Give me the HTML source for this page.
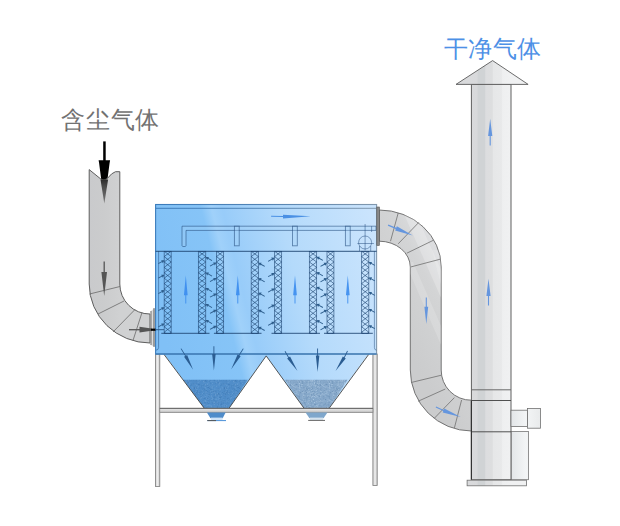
<!DOCTYPE html><html><head><meta charset="utf-8"><style>html,body{margin:0;padding:0;background:#fff;width:620px;height:526px;overflow:hidden}.t{position:absolute;font-family:"Liberation Sans",sans-serif;font-size:24px;white-space:nowrap;line-height:1}</style></head><body>
<svg width="620" height="526" viewBox="0 0 620 526" style="position:absolute;left:0;top:0">
<defs>
<linearGradient id="gBox" gradientUnits="userSpaceOnUse" x1="155" y1="300" x2="378" y2="245"><stop offset="0" stop-color="#80c0f6"/><stop offset="0.29" stop-color="#86c4f7"/><stop offset="0.335" stop-color="#a0d1fa"/><stop offset="0.38" stop-color="#98ccf9"/><stop offset="0.62" stop-color="#b4dafb"/><stop offset="1" stop-color="#cae4fd"/></linearGradient>
<linearGradient id="gEdge" gradientUnits="userSpaceOnUse" x1="155" y1="0" x2="377" y2="0"><stop offset="0" stop-color="#3b7cbc"/><stop offset="0.5" stop-color="#5485b5"/><stop offset="1" stop-color="#8298ad"/></linearGradient>
<linearGradient id="gDuctL" gradientUnits="userSpaceOnUse" x1="89" y1="0" x2="120" y2="0"><stop offset="0" stop-color="#c9cacc"/><stop offset="0.5" stop-color="#cbcccd"/><stop offset="1" stop-color="#d0d1d2"/></linearGradient>
<linearGradient id="gDuctR" gradientUnits="userSpaceOnUse" x1="380" y1="300" x2="470" y2="250"><stop offset="0" stop-color="#cbcccd"/><stop offset="0.5" stop-color="#d3d4d5"/><stop offset="0.7" stop-color="#dcdddf"/><stop offset="1" stop-color="#e2e3e4"/></linearGradient>
<linearGradient id="gStack" gradientUnits="userSpaceOnUse" x1="471" y1="0" x2="511" y2="0"><stop offset="0" stop-color="#d9dadc"/><stop offset="0.15" stop-color="#d8d9db"/><stop offset="0.18" stop-color="#d0d3d5"/><stop offset="0.34" stop-color="#d0d3d5"/><stop offset="0.37" stop-color="#dcdddf"/><stop offset="0.53" stop-color="#dddedf"/><stop offset="0.56" stop-color="#e6e7e8"/><stop offset="0.76" stop-color="#e8e9ea"/><stop offset="0.79" stop-color="#eeeff0"/><stop offset="1" stop-color="#f0f1f2"/></linearGradient>
<linearGradient id="gCap" gradientUnits="userSpaceOnUse" x1="456" y1="0" x2="528" y2="0"><stop offset="0" stop-color="#d6d7d8"/><stop offset="0.3" stop-color="#dcdcdd"/><stop offset="0.48" stop-color="#d4d5d6"/><stop offset="0.55" stop-color="#ebebec"/><stop offset="1" stop-color="#efefef"/></linearGradient>
<linearGradient id="gSide" gradientUnits="userSpaceOnUse" x1="511" y1="0" x2="541" y2="0"><stop offset="0" stop-color="#e3e6e8"/><stop offset="0.5" stop-color="#f3f5f6"/><stop offset="1" stop-color="#e8eaeb"/></linearGradient>
<linearGradient id="gBar" x1="0" y1="0" x2="0" y2="1"><stop offset="0" stop-color="#e8e8e8"/><stop offset="0.5" stop-color="#dadada"/><stop offset="1" stop-color="#b8b8b8"/></linearGradient>
<linearGradient id="gLeg" x1="0" y1="0" x2="1" y2="0"><stop offset="0" stop-color="#d0d0d0"/><stop offset="0.5" stop-color="#eeeeee"/><stop offset="1" stop-color="#c8c8c8"/></linearGradient>
<pattern id="mesh" width="7.4" height="5.7" patternUnits="userSpaceOnUse" x="0" y="255.2"><path d="M0,0 L7.4,5.7 M7.4,0 L0,5.7" stroke="#1b416e" stroke-opacity="0.68" stroke-width="0.65" fill="none"/></pattern>
<pattern id="dust1" width="30" height="30" patternUnits="userSpaceOnUse"><rect width="30" height="30" fill="#508dc9"/><rect x="9.7" y="4.5" width="0.5" height="0.5" fill="#3f7ab6"/><rect x="24.6" y="2.8" width="0.9" height="0.9" fill="#3f7ab6"/><rect x="6.4" y="2.6" width="0.5" height="0.5" fill="#5d98d0"/><rect x="7.2" y="16.5" width="0.9" height="0.9" fill="#3f7ab6"/><rect x="3.7" y="6.7" width="0.9" height="0.9" fill="#3f7ab6"/><rect x="17.6" y="1.5" width="0.5" height="0.5" fill="#6a9fd3"/><rect x="16.7" y="4.0" width="0.5" height="0.5" fill="#5d98d0"/><rect x="16.2" y="17.1" width="0.5" height="0.5" fill="#6a9fd3"/><rect x="17.4" y="19.2" width="0.5" height="0.5" fill="#4584c0"/><rect x="16.4" y="1.9" width="0.9" height="0.9" fill="#3f7ab6"/><rect x="6.2" y="20.4" width="0.7" height="0.7" fill="#5d98d0"/><rect x="14.0" y="27.7" width="0.7" height="0.7" fill="#4584c0"/><rect x="7.5" y="5.4" width="0.5" height="0.5" fill="#6a9fd3"/><rect x="17.2" y="15.8" width="0.9" height="0.9" fill="#4584c0"/><rect x="13.5" y="18.3" width="0.5" height="0.5" fill="#3f7ab6"/><rect x="15.4" y="4.9" width="0.5" height="0.5" fill="#4584c0"/><rect x="28.0" y="12.7" width="0.9" height="0.9" fill="#3f7ab6"/><rect x="17.2" y="26.3" width="0.7" height="0.7" fill="#4584c0"/><rect x="20.9" y="17.8" width="0.5" height="0.5" fill="#5d98d0"/><rect x="25.2" y="28.3" width="0.9" height="0.9" fill="#5d98d0"/><rect x="19.9" y="1.8" width="0.9" height="0.9" fill="#4584c0"/><rect x="17.3" y="20.4" width="0.7" height="0.7" fill="#5d98d0"/><rect x="21.5" y="26.6" width="0.5" height="0.5" fill="#4584c0"/><rect x="28.2" y="10.7" width="0.7" height="0.7" fill="#3f7ab6"/><rect x="1.8" y="23.0" width="0.9" height="0.9" fill="#6a9fd3"/><rect x="7.4" y="11.7" width="0.5" height="0.5" fill="#5d98d0"/><rect x="5.0" y="12.0" width="0.5" height="0.5" fill="#4584c0"/><rect x="24.6" y="25.9" width="0.9" height="0.9" fill="#4584c0"/><rect x="12.5" y="10.8" width="0.5" height="0.5" fill="#5d98d0"/><rect x="4.5" y="5.3" width="0.9" height="0.9" fill="#6a9fd3"/><rect x="7.0" y="14.5" width="0.7" height="0.7" fill="#6a9fd3"/><rect x="8.5" y="4.4" width="0.9" height="0.9" fill="#4584c0"/><rect x="17.0" y="28.6" width="0.7" height="0.7" fill="#3f7ab6"/><rect x="27.0" y="23.4" width="0.7" height="0.7" fill="#5d98d0"/><rect x="12.0" y="3.1" width="0.5" height="0.5" fill="#5d98d0"/><rect x="5.7" y="29.5" width="0.5" height="0.5" fill="#5d98d0"/><rect x="3.3" y="18.0" width="0.5" height="0.5" fill="#3f7ab6"/><rect x="17.0" y="16.1" width="0.9" height="0.9" fill="#4584c0"/><rect x="0.8" y="26.2" width="0.5" height="0.5" fill="#5d98d0"/><rect x="19.0" y="28.7" width="0.7" height="0.7" fill="#4584c0"/><rect x="3.7" y="25.5" width="0.7" height="0.7" fill="#5d98d0"/><rect x="14.5" y="2.6" width="0.9" height="0.9" fill="#3f7ab6"/><rect x="10.3" y="7.9" width="0.9" height="0.9" fill="#6a9fd3"/><rect x="0.7" y="28.5" width="0.5" height="0.5" fill="#4584c0"/><rect x="20.7" y="27.4" width="0.9" height="0.9" fill="#4584c0"/><rect x="25.9" y="20.9" width="0.9" height="0.9" fill="#4584c0"/><rect x="11.0" y="5.0" width="0.9" height="0.9" fill="#6a9fd3"/><rect x="16.2" y="15.1" width="0.9" height="0.9" fill="#6a9fd3"/><rect x="24.3" y="29.5" width="0.5" height="0.5" fill="#6a9fd3"/><rect x="24.5" y="22.2" width="0.5" height="0.5" fill="#6a9fd3"/><rect x="15.5" y="10.7" width="0.5" height="0.5" fill="#3f7ab6"/><rect x="23.7" y="14.2" width="0.9" height="0.9" fill="#6a9fd3"/><rect x="18.2" y="10.3" width="0.7" height="0.7" fill="#4584c0"/><rect x="2.4" y="3.1" width="0.5" height="0.5" fill="#5d98d0"/><rect x="10.1" y="14.5" width="0.7" height="0.7" fill="#3f7ab6"/><rect x="27.3" y="10.3" width="0.9" height="0.9" fill="#3f7ab6"/><rect x="3.6" y="11.7" width="0.7" height="0.7" fill="#6a9fd3"/><rect x="26.7" y="13.0" width="0.5" height="0.5" fill="#4584c0"/><rect x="24.0" y="29.1" width="0.7" height="0.7" fill="#5d98d0"/><rect x="12.0" y="28.4" width="0.5" height="0.5" fill="#6a9fd3"/><rect x="29.8" y="0.8" width="0.9" height="0.9" fill="#5d98d0"/><rect x="4.4" y="24.8" width="0.9" height="0.9" fill="#5d98d0"/><rect x="28.1" y="4.7" width="0.5" height="0.5" fill="#6a9fd3"/><rect x="0.4" y="29.1" width="0.9" height="0.9" fill="#3f7ab6"/><rect x="22.5" y="4.2" width="0.5" height="0.5" fill="#6a9fd3"/><rect x="0.8" y="6.4" width="0.9" height="0.9" fill="#6a9fd3"/><rect x="9.8" y="16.3" width="0.5" height="0.5" fill="#6a9fd3"/><rect x="27.3" y="10.6" width="0.9" height="0.9" fill="#5d98d0"/><rect x="17.5" y="27.1" width="0.9" height="0.9" fill="#5d98d0"/><rect x="3.9" y="4.6" width="0.7" height="0.7" fill="#3f7ab6"/><rect x="23.3" y="18.3" width="0.5" height="0.5" fill="#6a9fd3"/><rect x="4.2" y="18.6" width="0.9" height="0.9" fill="#3f7ab6"/><rect x="1.9" y="20.5" width="0.5" height="0.5" fill="#5d98d0"/><rect x="26.5" y="1.7" width="0.7" height="0.7" fill="#6a9fd3"/><rect x="1.3" y="2.9" width="0.9" height="0.9" fill="#5d98d0"/><rect x="0.8" y="26.8" width="0.7" height="0.7" fill="#3f7ab6"/><rect x="9.8" y="29.2" width="0.9" height="0.9" fill="#6a9fd3"/><rect x="8.3" y="15.2" width="0.9" height="0.9" fill="#5d98d0"/><rect x="28.2" y="21.0" width="0.9" height="0.9" fill="#4584c0"/><rect x="26.8" y="6.1" width="0.5" height="0.5" fill="#5d98d0"/><rect x="12.5" y="11.8" width="0.5" height="0.5" fill="#4584c0"/><rect x="20.1" y="12.9" width="0.9" height="0.9" fill="#6a9fd3"/><rect x="9.1" y="3.7" width="0.9" height="0.9" fill="#6a9fd3"/><rect x="19.3" y="11.0" width="0.5" height="0.5" fill="#4584c0"/><rect x="29.0" y="6.6" width="0.7" height="0.7" fill="#3f7ab6"/><rect x="26.5" y="4.9" width="0.5" height="0.5" fill="#6a9fd3"/><rect x="21.2" y="29.8" width="0.7" height="0.7" fill="#5d98d0"/><rect x="12.6" y="10.7" width="0.9" height="0.9" fill="#3f7ab6"/><rect x="11.0" y="10.1" width="0.7" height="0.7" fill="#5d98d0"/><rect x="21.1" y="11.5" width="0.9" height="0.9" fill="#4584c0"/><rect x="28.8" y="3.4" width="0.5" height="0.5" fill="#6a9fd3"/><rect x="2.5" y="8.2" width="0.7" height="0.7" fill="#6a9fd3"/><rect x="22.7" y="24.6" width="0.7" height="0.7" fill="#4584c0"/><rect x="4.5" y="27.6" width="0.9" height="0.9" fill="#5d98d0"/><rect x="9.8" y="8.4" width="0.7" height="0.7" fill="#6a9fd3"/><rect x="26.9" y="8.1" width="0.9" height="0.9" fill="#3f7ab6"/><rect x="2.7" y="7.8" width="0.5" height="0.5" fill="#6a9fd3"/><rect x="7.9" y="3.7" width="0.7" height="0.7" fill="#3f7ab6"/><rect x="29.8" y="12.5" width="0.9" height="0.9" fill="#4584c0"/><rect x="3.9" y="15.8" width="0.5" height="0.5" fill="#6a9fd3"/><rect x="29.1" y="7.9" width="0.5" height="0.5" fill="#6a9fd3"/><rect x="28.0" y="18.9" width="0.7" height="0.7" fill="#6a9fd3"/><rect x="13.4" y="20.2" width="0.7" height="0.7" fill="#4584c0"/><rect x="24.1" y="29.8" width="0.5" height="0.5" fill="#3f7ab6"/><rect x="0.6" y="15.2" width="0.9" height="0.9" fill="#6a9fd3"/><rect x="14.2" y="28.0" width="0.9" height="0.9" fill="#3f7ab6"/><rect x="24.6" y="13.0" width="0.9" height="0.9" fill="#5d98d0"/><rect x="25.0" y="11.8" width="0.9" height="0.9" fill="#4584c0"/><rect x="6.5" y="6.9" width="0.9" height="0.9" fill="#6a9fd3"/><rect x="21.9" y="4.2" width="0.5" height="0.5" fill="#4584c0"/><rect x="25.1" y="0.4" width="0.7" height="0.7" fill="#4584c0"/><rect x="4.9" y="2.5" width="0.9" height="0.9" fill="#5d98d0"/><rect x="20.1" y="8.5" width="0.9" height="0.9" fill="#6a9fd3"/><rect x="8.8" y="13.8" width="0.7" height="0.7" fill="#6a9fd3"/><rect x="13.4" y="7.9" width="0.9" height="0.9" fill="#4584c0"/><rect x="9.7" y="1.0" width="0.5" height="0.5" fill="#4584c0"/><rect x="10.7" y="0.0" width="0.5" height="0.5" fill="#5d98d0"/><rect x="14.2" y="15.1" width="0.5" height="0.5" fill="#6a9fd3"/><rect x="15.1" y="0.1" width="0.5" height="0.5" fill="#4584c0"/><rect x="4.3" y="17.6" width="0.5" height="0.5" fill="#5d98d0"/><rect x="9.0" y="18.9" width="0.9" height="0.9" fill="#3f7ab6"/><rect x="28.7" y="25.6" width="0.9" height="0.9" fill="#6a9fd3"/><rect x="26.8" y="23.5" width="0.7" height="0.7" fill="#5d98d0"/><rect x="21.6" y="14.8" width="0.9" height="0.9" fill="#4584c0"/><rect x="18.6" y="4.3" width="0.9" height="0.9" fill="#5d98d0"/><rect x="21.0" y="15.2" width="0.9" height="0.9" fill="#3f7ab6"/><rect x="17.5" y="26.8" width="0.5" height="0.5" fill="#6a9fd3"/><rect x="0.9" y="4.0" width="0.5" height="0.5" fill="#4584c0"/><rect x="11.3" y="13.5" width="0.9" height="0.9" fill="#3f7ab6"/><rect x="0.6" y="15.9" width="0.7" height="0.7" fill="#6a9fd3"/><rect x="7.9" y="13.7" width="0.9" height="0.9" fill="#3f7ab6"/><rect x="28.0" y="26.9" width="0.9" height="0.9" fill="#3f7ab6"/><rect x="15.8" y="22.4" width="0.7" height="0.7" fill="#5d98d0"/><rect x="24.3" y="25.4" width="0.9" height="0.9" fill="#6a9fd3"/><rect x="22.7" y="6.9" width="0.7" height="0.7" fill="#5d98d0"/><rect x="25.4" y="2.3" width="0.5" height="0.5" fill="#4584c0"/><rect x="18.5" y="19.3" width="0.9" height="0.9" fill="#3f7ab6"/><rect x="4.4" y="7.6" width="0.9" height="0.9" fill="#4584c0"/><rect x="17.0" y="0.4" width="0.7" height="0.7" fill="#3f7ab6"/><rect x="8.1" y="20.2" width="0.9" height="0.9" fill="#6a9fd3"/><rect x="14.7" y="21.3" width="0.7" height="0.7" fill="#4584c0"/><rect x="14.0" y="23.0" width="0.7" height="0.7" fill="#6a9fd3"/><rect x="29.3" y="28.1" width="0.7" height="0.7" fill="#3f7ab6"/><rect x="13.8" y="24.6" width="0.7" height="0.7" fill="#5d98d0"/><rect x="11.6" y="27.5" width="0.5" height="0.5" fill="#6a9fd3"/><rect x="17.4" y="4.3" width="0.7" height="0.7" fill="#4584c0"/><rect x="4.0" y="24.6" width="0.5" height="0.5" fill="#4584c0"/><rect x="21.1" y="6.9" width="0.7" height="0.7" fill="#5d98d0"/><rect x="0.7" y="0.1" width="0.9" height="0.9" fill="#5d98d0"/><rect x="13.5" y="9.1" width="0.7" height="0.7" fill="#6a9fd3"/><rect x="10.3" y="9.5" width="0.5" height="0.5" fill="#4584c0"/><rect x="9.7" y="10.1" width="0.5" height="0.5" fill="#5d98d0"/><rect x="28.2" y="5.9" width="0.9" height="0.9" fill="#3f7ab6"/><rect x="8.7" y="11.2" width="0.7" height="0.7" fill="#5d98d0"/><rect x="30.0" y="17.7" width="0.7" height="0.7" fill="#4584c0"/><rect x="22.7" y="25.6" width="0.5" height="0.5" fill="#4584c0"/><rect x="1.5" y="19.9" width="0.5" height="0.5" fill="#6a9fd3"/><rect x="29.1" y="13.1" width="0.5" height="0.5" fill="#4584c0"/><rect x="23.2" y="23.6" width="0.5" height="0.5" fill="#5d98d0"/><rect x="24.4" y="18.9" width="0.9" height="0.9" fill="#6a9fd3"/><rect x="2.4" y="28.0" width="0.7" height="0.7" fill="#5d98d0"/><rect x="18.4" y="4.2" width="0.7" height="0.7" fill="#4584c0"/><rect x="1.5" y="27.8" width="0.5" height="0.5" fill="#6a9fd3"/><rect x="14.2" y="10.3" width="0.7" height="0.7" fill="#4584c0"/><rect x="22.2" y="29.3" width="0.7" height="0.7" fill="#4584c0"/><rect x="19.7" y="9.0" width="0.5" height="0.5" fill="#5d98d0"/><rect x="5.0" y="4.8" width="0.9" height="0.9" fill="#6a9fd3"/><rect x="27.2" y="14.9" width="0.7" height="0.7" fill="#6a9fd3"/><rect x="27.2" y="29.9" width="0.7" height="0.7" fill="#5d98d0"/><rect x="4.2" y="5.8" width="0.5" height="0.5" fill="#3f7ab6"/><rect x="10.3" y="2.7" width="0.7" height="0.7" fill="#6a9fd3"/><rect x="7.8" y="17.1" width="0.9" height="0.9" fill="#3f7ab6"/><rect x="26.1" y="11.5" width="0.7" height="0.7" fill="#6a9fd3"/><rect x="8.1" y="22.6" width="0.7" height="0.7" fill="#5d98d0"/><rect x="17.2" y="10.8" width="0.5" height="0.5" fill="#6a9fd3"/><rect x="8.1" y="7.5" width="0.9" height="0.9" fill="#5d98d0"/><rect x="13.4" y="28.6" width="0.5" height="0.5" fill="#3f7ab6"/><rect x="1.0" y="21.3" width="0.9" height="0.9" fill="#5d98d0"/><rect x="14.7" y="2.2" width="0.7" height="0.7" fill="#5d98d0"/><rect x="7.5" y="3.3" width="0.5" height="0.5" fill="#6a9fd3"/><rect x="15.7" y="20.5" width="0.5" height="0.5" fill="#5d98d0"/><rect x="16.5" y="1.2" width="0.5" height="0.5" fill="#6a9fd3"/><rect x="17.1" y="1.1" width="0.5" height="0.5" fill="#4584c0"/><rect x="18.8" y="15.8" width="0.9" height="0.9" fill="#5d98d0"/><rect x="22.9" y="3.0" width="0.9" height="0.9" fill="#4584c0"/><rect x="28.3" y="5.8" width="0.5" height="0.5" fill="#4584c0"/><rect x="23.7" y="0.0" width="0.7" height="0.7" fill="#4584c0"/><rect x="8.4" y="9.5" width="0.7" height="0.7" fill="#6a9fd3"/><rect x="15.8" y="16.4" width="0.7" height="0.7" fill="#3f7ab6"/><rect x="21.1" y="9.2" width="0.5" height="0.5" fill="#3f7ab6"/><rect x="14.9" y="20.2" width="0.5" height="0.5" fill="#5d98d0"/><rect x="7.7" y="20.0" width="0.5" height="0.5" fill="#4584c0"/><rect x="14.8" y="20.9" width="0.7" height="0.7" fill="#5d98d0"/><rect x="20.5" y="5.9" width="0.9" height="0.9" fill="#4584c0"/><rect x="25.4" y="2.0" width="0.5" height="0.5" fill="#5d98d0"/><rect x="9.4" y="24.6" width="0.7" height="0.7" fill="#6a9fd3"/><rect x="6.6" y="22.8" width="0.5" height="0.5" fill="#4584c0"/><rect x="28.6" y="14.9" width="0.5" height="0.5" fill="#6a9fd3"/><rect x="14.6" y="27.3" width="0.9" height="0.9" fill="#3f7ab6"/><rect x="4.4" y="11.8" width="0.5" height="0.5" fill="#6a9fd3"/><rect x="29.2" y="4.3" width="0.9" height="0.9" fill="#3f7ab6"/><rect x="1.8" y="11.8" width="0.9" height="0.9" fill="#4584c0"/><rect x="3.4" y="2.4" width="0.7" height="0.7" fill="#6a9fd3"/><rect x="5.7" y="19.6" width="0.5" height="0.5" fill="#5d98d0"/><rect x="9.4" y="21.8" width="0.7" height="0.7" fill="#4584c0"/><rect x="13.3" y="3.3" width="0.7" height="0.7" fill="#3f7ab6"/><rect x="2.4" y="12.6" width="0.9" height="0.9" fill="#3f7ab6"/><rect x="28.9" y="6.2" width="0.7" height="0.7" fill="#4584c0"/><rect x="24.7" y="13.0" width="0.9" height="0.9" fill="#3f7ab6"/><rect x="14.2" y="11.2" width="0.5" height="0.5" fill="#5d98d0"/><rect x="9.7" y="22.1" width="0.5" height="0.5" fill="#5d98d0"/><rect x="18.9" y="7.4" width="0.5" height="0.5" fill="#5d98d0"/><rect x="11.3" y="13.9" width="0.7" height="0.7" fill="#3f7ab6"/><rect x="5.8" y="1.9" width="0.7" height="0.7" fill="#4584c0"/><rect x="8.2" y="28.7" width="0.7" height="0.7" fill="#3f7ab6"/><rect x="22.4" y="20.7" width="0.7" height="0.7" fill="#4584c0"/><rect x="0.1" y="22.7" width="0.5" height="0.5" fill="#3f7ab6"/><rect x="24.8" y="3.2" width="0.7" height="0.7" fill="#5d98d0"/><rect x="23.7" y="27.4" width="0.5" height="0.5" fill="#5d98d0"/><rect x="27.8" y="5.5" width="0.9" height="0.9" fill="#4584c0"/><rect x="23.2" y="18.2" width="0.7" height="0.7" fill="#4584c0"/><rect x="13.8" y="23.5" width="0.9" height="0.9" fill="#3f7ab6"/><rect x="5.9" y="22.6" width="0.7" height="0.7" fill="#6a9fd3"/><rect x="1.9" y="1.0" width="0.5" height="0.5" fill="#4584c0"/><rect x="29.4" y="26.5" width="0.7" height="0.7" fill="#3f7ab6"/><rect x="18.7" y="6.3" width="0.7" height="0.7" fill="#5d98d0"/><rect x="29.7" y="29.2" width="0.5" height="0.5" fill="#6a9fd3"/><rect x="4.0" y="13.8" width="0.9" height="0.9" fill="#6a9fd3"/><rect x="16.2" y="23.2" width="0.7" height="0.7" fill="#3f7ab6"/><rect x="8.8" y="17.0" width="0.7" height="0.7" fill="#4584c0"/><rect x="22.1" y="6.0" width="0.5" height="0.5" fill="#6a9fd3"/><rect x="7.4" y="4.6" width="0.7" height="0.7" fill="#6a9fd3"/><rect x="1.9" y="7.5" width="0.9" height="0.9" fill="#6a9fd3"/><rect x="15.8" y="19.5" width="0.9" height="0.9" fill="#3f7ab6"/><rect x="13.9" y="1.1" width="0.7" height="0.7" fill="#3f7ab6"/><rect x="26.5" y="6.9" width="0.7" height="0.7" fill="#5d98d0"/><rect x="1.2" y="8.8" width="0.5" height="0.5" fill="#3f7ab6"/><rect x="5.7" y="29.2" width="0.5" height="0.5" fill="#6a9fd3"/><rect x="11.2" y="26.0" width="0.9" height="0.9" fill="#5d98d0"/><rect x="7.8" y="23.3" width="0.5" height="0.5" fill="#3f7ab6"/><rect x="19.1" y="21.3" width="0.5" height="0.5" fill="#4584c0"/><rect x="1.1" y="10.2" width="0.5" height="0.5" fill="#3f7ab6"/><rect x="30.0" y="1.1" width="0.5" height="0.5" fill="#6a9fd3"/><rect x="24.6" y="12.3" width="0.5" height="0.5" fill="#4584c0"/><rect x="18.6" y="2.3" width="0.7" height="0.7" fill="#3f7ab6"/><rect x="16.4" y="1.9" width="0.7" height="0.7" fill="#3f7ab6"/><rect x="19.9" y="4.6" width="0.9" height="0.9" fill="#3f7ab6"/><rect x="4.9" y="20.9" width="0.7" height="0.7" fill="#5d98d0"/><rect x="20.0" y="12.5" width="0.7" height="0.7" fill="#3f7ab6"/><rect x="22.4" y="26.5" width="0.7" height="0.7" fill="#5d98d0"/><rect x="0.5" y="23.0" width="0.9" height="0.9" fill="#4584c0"/><rect x="5.9" y="21.8" width="0.5" height="0.5" fill="#6a9fd3"/><rect x="13.0" y="4.7" width="0.5" height="0.5" fill="#3f7ab6"/><rect x="12.2" y="26.5" width="0.5" height="0.5" fill="#5d98d0"/><rect x="3.9" y="1.6" width="0.9" height="0.9" fill="#6a9fd3"/><rect x="24.2" y="11.9" width="0.9" height="0.9" fill="#4584c0"/><rect x="15.1" y="4.4" width="0.5" height="0.5" fill="#4584c0"/><rect x="15.6" y="27.8" width="0.7" height="0.7" fill="#3f7ab6"/><rect x="14.7" y="24.1" width="0.7" height="0.7" fill="#6a9fd3"/><rect x="3.8" y="28.3" width="0.7" height="0.7" fill="#5d98d0"/><rect x="1.6" y="27.8" width="0.5" height="0.5" fill="#5d98d0"/><rect x="27.1" y="18.6" width="0.9" height="0.9" fill="#6a9fd3"/><rect x="23.6" y="6.7" width="0.9" height="0.9" fill="#5d98d0"/><rect x="25.4" y="24.9" width="0.9" height="0.9" fill="#6a9fd3"/><rect x="6.5" y="12.0" width="0.7" height="0.7" fill="#6a9fd3"/><rect x="10.8" y="4.5" width="0.5" height="0.5" fill="#6a9fd3"/><rect x="26.5" y="25.3" width="0.9" height="0.9" fill="#3f7ab6"/><rect x="25.1" y="3.5" width="0.9" height="0.9" fill="#5d98d0"/><rect x="25.5" y="23.3" width="0.7" height="0.7" fill="#5d98d0"/><rect x="17.5" y="12.8" width="0.7" height="0.7" fill="#4584c0"/><rect x="15.1" y="5.4" width="0.9" height="0.9" fill="#3f7ab6"/><rect x="29.6" y="14.0" width="0.9" height="0.9" fill="#5d98d0"/><rect x="23.4" y="13.7" width="0.7" height="0.7" fill="#6a9fd3"/><rect x="12.0" y="2.0" width="0.7" height="0.7" fill="#4584c0"/><rect x="11.0" y="24.1" width="0.5" height="0.5" fill="#3f7ab6"/><rect x="19.1" y="2.5" width="0.9" height="0.9" fill="#4584c0"/><rect x="15.3" y="1.6" width="0.9" height="0.9" fill="#5d98d0"/><rect x="28.5" y="4.1" width="0.9" height="0.9" fill="#3f7ab6"/><rect x="22.0" y="24.4" width="0.5" height="0.5" fill="#6a9fd3"/><rect x="29.5" y="14.8" width="0.9" height="0.9" fill="#6a9fd3"/><rect x="23.7" y="27.9" width="0.7" height="0.7" fill="#3f7ab6"/><rect x="18.3" y="7.6" width="0.9" height="0.9" fill="#4584c0"/><rect x="8.2" y="24.5" width="0.7" height="0.7" fill="#6a9fd3"/><rect x="15.1" y="27.6" width="0.9" height="0.9" fill="#6a9fd3"/><rect x="7.9" y="15.2" width="0.7" height="0.7" fill="#4584c0"/><rect x="1.1" y="5.5" width="0.9" height="0.9" fill="#6a9fd3"/><rect x="28.1" y="20.4" width="0.5" height="0.5" fill="#5d98d0"/><rect x="23.8" y="7.9" width="0.9" height="0.9" fill="#3f7ab6"/><rect x="25.7" y="29.0" width="0.9" height="0.9" fill="#5d98d0"/><rect x="15.6" y="20.7" width="0.7" height="0.7" fill="#3f7ab6"/><rect x="29.8" y="18.9" width="0.9" height="0.9" fill="#5d98d0"/><rect x="23.9" y="7.9" width="0.9" height="0.9" fill="#4584c0"/><rect x="4.4" y="9.9" width="0.7" height="0.7" fill="#3f7ab6"/><rect x="6.9" y="18.5" width="0.7" height="0.7" fill="#3f7ab6"/><rect x="24.6" y="7.6" width="0.9" height="0.9" fill="#4584c0"/><rect x="0.1" y="1.0" width="0.7" height="0.7" fill="#6a9fd3"/><rect x="18.5" y="13.0" width="0.5" height="0.5" fill="#4584c0"/><rect x="4.0" y="6.8" width="0.5" height="0.5" fill="#3f7ab6"/><rect x="1.6" y="17.0" width="0.5" height="0.5" fill="#4584c0"/><rect x="15.7" y="16.0" width="0.9" height="0.9" fill="#5d98d0"/><rect x="9.0" y="4.0" width="0.9" height="0.9" fill="#4584c0"/><rect x="24.9" y="4.8" width="0.5" height="0.5" fill="#3f7ab6"/><rect x="21.2" y="13.5" width="0.9" height="0.9" fill="#3f7ab6"/><rect x="4.3" y="20.0" width="0.7" height="0.7" fill="#4584c0"/><rect x="24.3" y="29.0" width="0.9" height="0.9" fill="#3f7ab6"/><rect x="24.6" y="26.8" width="0.9" height="0.9" fill="#5d98d0"/><rect x="28.1" y="22.0" width="0.5" height="0.5" fill="#6a9fd3"/><rect x="27.1" y="1.3" width="0.7" height="0.7" fill="#3f7ab6"/><rect x="5.6" y="4.8" width="0.5" height="0.5" fill="#3f7ab6"/><rect x="18.4" y="19.7" width="0.5" height="0.5" fill="#6a9fd3"/><rect x="12.4" y="15.5" width="0.9" height="0.9" fill="#5d98d0"/><rect x="5.2" y="9.3" width="0.9" height="0.9" fill="#4584c0"/><rect x="1.5" y="26.7" width="0.9" height="0.9" fill="#5d98d0"/><rect x="16.2" y="11.3" width="0.9" height="0.9" fill="#5d98d0"/><rect x="27.4" y="2.4" width="0.5" height="0.5" fill="#5d98d0"/><rect x="6.8" y="3.2" width="0.9" height="0.9" fill="#6a9fd3"/><rect x="1.2" y="10.1" width="0.9" height="0.9" fill="#4584c0"/><rect x="1.6" y="19.1" width="0.9" height="0.9" fill="#5d98d0"/><rect x="23.7" y="15.7" width="0.7" height="0.7" fill="#4584c0"/><rect x="19.3" y="29.0" width="0.5" height="0.5" fill="#6a9fd3"/><rect x="26.4" y="0.5" width="0.5" height="0.5" fill="#4584c0"/><rect x="25.3" y="6.1" width="0.9" height="0.9" fill="#6a9fd3"/><rect x="27.4" y="5.8" width="0.7" height="0.7" fill="#5d98d0"/><rect x="18.0" y="11.4" width="0.7" height="0.7" fill="#5d98d0"/><rect x="25.2" y="20.9" width="0.7" height="0.7" fill="#3f7ab6"/><rect x="28.7" y="7.0" width="0.5" height="0.5" fill="#4584c0"/><rect x="11.7" y="17.6" width="0.5" height="0.5" fill="#6a9fd3"/><rect x="1.0" y="3.4" width="0.7" height="0.7" fill="#6a9fd3"/><rect x="29.3" y="21.0" width="0.5" height="0.5" fill="#3f7ab6"/><rect x="4.2" y="19.3" width="0.9" height="0.9" fill="#3f7ab6"/><rect x="2.0" y="1.4" width="0.5" height="0.5" fill="#4584c0"/><rect x="24.5" y="24.6" width="0.9" height="0.9" fill="#3f7ab6"/><rect x="28.3" y="3.2" width="0.5" height="0.5" fill="#6a9fd3"/><rect x="3.4" y="1.0" width="0.9" height="0.9" fill="#3f7ab6"/><rect x="19.0" y="14.3" width="0.5" height="0.5" fill="#6a9fd3"/><rect x="23.8" y="19.4" width="0.7" height="0.7" fill="#4584c0"/><rect x="10.1" y="7.8" width="0.7" height="0.7" fill="#4584c0"/><rect x="27.9" y="1.5" width="0.7" height="0.7" fill="#4584c0"/><rect x="23.1" y="18.1" width="0.7" height="0.7" fill="#5d98d0"/><rect x="18.5" y="0.9" width="0.5" height="0.5" fill="#5d98d0"/><rect x="13.1" y="23.2" width="0.7" height="0.7" fill="#4584c0"/><rect x="21.1" y="16.1" width="0.9" height="0.9" fill="#6a9fd3"/><rect x="25.9" y="2.7" width="0.5" height="0.5" fill="#4584c0"/><rect x="13.1" y="15.7" width="0.5" height="0.5" fill="#4584c0"/><rect x="0.1" y="14.7" width="0.9" height="0.9" fill="#5d98d0"/><rect x="23.9" y="5.5" width="0.9" height="0.9" fill="#5d98d0"/><rect x="10.4" y="25.0" width="0.9" height="0.9" fill="#4584c0"/><rect x="28.3" y="8.5" width="0.9" height="0.9" fill="#6a9fd3"/><rect x="6.9" y="5.0" width="0.7" height="0.7" fill="#3f7ab6"/><rect x="23.6" y="20.9" width="0.9" height="0.9" fill="#3f7ab6"/><rect x="9.8" y="2.9" width="0.9" height="0.9" fill="#5d98d0"/><rect x="2.6" y="26.7" width="0.7" height="0.7" fill="#3f7ab6"/><rect x="6.2" y="7.9" width="0.7" height="0.7" fill="#6a9fd3"/><rect x="29.5" y="18.9" width="0.5" height="0.5" fill="#5d98d0"/><rect x="15.9" y="22.6" width="0.7" height="0.7" fill="#3f7ab6"/><rect x="17.4" y="15.7" width="0.9" height="0.9" fill="#5d98d0"/><rect x="16.6" y="9.7" width="0.7" height="0.7" fill="#5d98d0"/><rect x="20.7" y="7.7" width="0.5" height="0.5" fill="#6a9fd3"/><rect x="10.0" y="19.3" width="0.9" height="0.9" fill="#6a9fd3"/><rect x="5.7" y="9.0" width="0.9" height="0.9" fill="#6a9fd3"/><rect x="4.7" y="7.4" width="0.9" height="0.9" fill="#4584c0"/><rect x="15.7" y="4.8" width="0.5" height="0.5" fill="#4584c0"/><rect x="7.8" y="28.6" width="0.5" height="0.5" fill="#3f7ab6"/><rect x="28.9" y="3.0" width="0.5" height="0.5" fill="#5d98d0"/><rect x="29.5" y="23.8" width="0.7" height="0.7" fill="#4584c0"/><rect x="8.2" y="3.3" width="0.7" height="0.7" fill="#3f7ab6"/><rect x="6.2" y="11.7" width="0.5" height="0.5" fill="#3f7ab6"/><rect x="12.0" y="23.7" width="0.9" height="0.9" fill="#6a9fd3"/><rect x="29.4" y="8.9" width="0.5" height="0.5" fill="#3f7ab6"/><rect x="7.7" y="22.1" width="0.9" height="0.9" fill="#3f7ab6"/><rect x="7.3" y="25.6" width="0.5" height="0.5" fill="#5d98d0"/><rect x="20.0" y="19.6" width="0.9" height="0.9" fill="#6a9fd3"/><rect x="5.4" y="3.7" width="0.7" height="0.7" fill="#5d98d0"/><rect x="7.8" y="21.0" width="0.5" height="0.5" fill="#5d98d0"/><rect x="23.5" y="21.4" width="0.7" height="0.7" fill="#6a9fd3"/><rect x="25.5" y="14.5" width="0.9" height="0.9" fill="#3f7ab6"/><rect x="25.8" y="15.5" width="0.9" height="0.9" fill="#6a9fd3"/><rect x="9.8" y="0.3" width="0.5" height="0.5" fill="#5d98d0"/><rect x="1.1" y="16.3" width="0.9" height="0.9" fill="#6a9fd3"/><rect x="23.5" y="28.2" width="0.5" height="0.5" fill="#4584c0"/><rect x="25.4" y="13.7" width="0.9" height="0.9" fill="#6a9fd3"/><rect x="14.3" y="0.5" width="0.9" height="0.9" fill="#4584c0"/><rect x="10.3" y="22.3" width="0.5" height="0.5" fill="#5d98d0"/><rect x="29.7" y="5.5" width="0.9" height="0.9" fill="#3f7ab6"/><rect x="29.5" y="10.7" width="0.7" height="0.7" fill="#3f7ab6"/><rect x="8.2" y="12.0" width="0.5" height="0.5" fill="#3f7ab6"/><rect x="12.6" y="12.6" width="0.9" height="0.9" fill="#4584c0"/><rect x="8.0" y="6.7" width="0.9" height="0.9" fill="#5d98d0"/><rect x="29.1" y="29.8" width="0.7" height="0.7" fill="#5d98d0"/><rect x="6.4" y="3.9" width="0.9" height="0.9" fill="#3f7ab6"/><rect x="5.8" y="19.3" width="0.5" height="0.5" fill="#6a9fd3"/><rect x="10.6" y="19.2" width="0.7" height="0.7" fill="#5d98d0"/><rect x="29.9" y="22.8" width="0.7" height="0.7" fill="#6a9fd3"/><rect x="10.6" y="25.5" width="0.9" height="0.9" fill="#4584c0"/><rect x="11.3" y="7.6" width="0.9" height="0.9" fill="#5d98d0"/><rect x="5.6" y="0.1" width="0.7" height="0.7" fill="#4584c0"/><rect x="7.3" y="9.1" width="0.7" height="0.7" fill="#5d98d0"/><rect x="12.9" y="19.1" width="0.5" height="0.5" fill="#4584c0"/><rect x="27.9" y="25.6" width="0.5" height="0.5" fill="#3f7ab6"/><rect x="24.8" y="27.2" width="0.9" height="0.9" fill="#6a9fd3"/><rect x="24.9" y="19.0" width="0.9" height="0.9" fill="#3f7ab6"/><rect x="0.3" y="28.6" width="0.7" height="0.7" fill="#4584c0"/><rect x="18.2" y="17.4" width="0.5" height="0.5" fill="#6a9fd3"/><rect x="23.3" y="10.4" width="0.5" height="0.5" fill="#6a9fd3"/><rect x="27.1" y="23.8" width="0.9" height="0.9" fill="#6a9fd3"/><rect x="26.7" y="18.3" width="0.9" height="0.9" fill="#3f7ab6"/><rect x="27.0" y="16.5" width="0.5" height="0.5" fill="#4584c0"/><rect x="14.8" y="6.4" width="0.9" height="0.9" fill="#3f7ab6"/><rect x="25.2" y="20.1" width="0.9" height="0.9" fill="#3f7ab6"/><rect x="3.6" y="12.6" width="0.7" height="0.7" fill="#6a9fd3"/><rect x="14.8" y="1.8" width="0.5" height="0.5" fill="#5d98d0"/><rect x="21.0" y="7.4" width="0.9" height="0.9" fill="#6a9fd3"/><rect x="18.0" y="22.0" width="0.7" height="0.7" fill="#6a9fd3"/><rect x="14.0" y="16.9" width="0.7" height="0.7" fill="#4584c0"/><rect x="11.2" y="12.6" width="0.5" height="0.5" fill="#3f7ab6"/><rect x="19.1" y="19.1" width="0.5" height="0.5" fill="#3f7ab6"/><rect x="18.3" y="20.5" width="0.5" height="0.5" fill="#4584c0"/><rect x="15.3" y="14.5" width="0.5" height="0.5" fill="#6a9fd3"/><rect x="6.4" y="12.5" width="0.7" height="0.7" fill="#6a9fd3"/><rect x="2.8" y="19.8" width="0.7" height="0.7" fill="#4584c0"/><rect x="23.4" y="16.6" width="0.7" height="0.7" fill="#6a9fd3"/><rect x="13.1" y="12.7" width="0.7" height="0.7" fill="#3f7ab6"/><rect x="8.8" y="24.8" width="0.7" height="0.7" fill="#5d98d0"/><rect x="15.1" y="8.2" width="0.5" height="0.5" fill="#4584c0"/><rect x="19.6" y="23.8" width="0.5" height="0.5" fill="#4584c0"/><rect x="9.5" y="9.0" width="0.5" height="0.5" fill="#3f7ab6"/><rect x="12.0" y="16.6" width="0.9" height="0.9" fill="#5d98d0"/><rect x="17.2" y="12.0" width="0.5" height="0.5" fill="#3f7ab6"/><rect x="1.4" y="24.7" width="0.9" height="0.9" fill="#5d98d0"/><rect x="23.0" y="1.8" width="0.9" height="0.9" fill="#5d98d0"/><rect x="4.4" y="20.2" width="0.5" height="0.5" fill="#3f7ab6"/><rect x="1.2" y="19.0" width="0.5" height="0.5" fill="#6a9fd3"/><rect x="19.9" y="26.1" width="0.5" height="0.5" fill="#5d98d0"/><rect x="27.4" y="19.7" width="0.5" height="0.5" fill="#4584c0"/><rect x="23.6" y="16.9" width="0.7" height="0.7" fill="#4584c0"/><rect x="5.5" y="1.0" width="0.7" height="0.7" fill="#3f7ab6"/><rect x="17.0" y="17.3" width="0.7" height="0.7" fill="#3f7ab6"/><rect x="17.0" y="1.2" width="0.7" height="0.7" fill="#3f7ab6"/><rect x="17.3" y="27.6" width="0.5" height="0.5" fill="#5d98d0"/><rect x="0.4" y="11.6" width="0.7" height="0.7" fill="#6a9fd3"/><rect x="23.1" y="16.5" width="0.9" height="0.9" fill="#3f7ab6"/><rect x="14.2" y="26.9" width="0.7" height="0.7" fill="#3f7ab6"/><rect x="0.1" y="20.5" width="0.5" height="0.5" fill="#3f7ab6"/><rect x="6.5" y="3.6" width="0.5" height="0.5" fill="#5d98d0"/><rect x="8.3" y="17.1" width="0.9" height="0.9" fill="#5d98d0"/><rect x="22.3" y="27.7" width="0.9" height="0.9" fill="#4584c0"/><rect x="21.4" y="25.7" width="0.7" height="0.7" fill="#3f7ab6"/><rect x="18.9" y="21.3" width="0.9" height="0.9" fill="#5d98d0"/><rect x="28.0" y="7.6" width="0.9" height="0.9" fill="#3f7ab6"/><rect x="1.0" y="1.8" width="0.7" height="0.7" fill="#3f7ab6"/><rect x="9.3" y="21.9" width="0.7" height="0.7" fill="#6a9fd3"/><rect x="18.3" y="9.5" width="0.7" height="0.7" fill="#5d98d0"/><rect x="20.3" y="4.3" width="0.7" height="0.7" fill="#3f7ab6"/><rect x="28.6" y="4.9" width="0.7" height="0.7" fill="#5d98d0"/><rect x="11.6" y="23.6" width="0.9" height="0.9" fill="#4584c0"/><rect x="10.0" y="8.4" width="0.9" height="0.9" fill="#4584c0"/><rect x="21.8" y="0.5" width="0.9" height="0.9" fill="#6a9fd3"/><rect x="25.0" y="17.5" width="0.7" height="0.7" fill="#6a9fd3"/><rect x="11.6" y="11.3" width="0.7" height="0.7" fill="#6a9fd3"/><rect x="8.5" y="0.1" width="0.7" height="0.7" fill="#4584c0"/><rect x="12.7" y="17.6" width="0.7" height="0.7" fill="#3f7ab6"/><rect x="25.0" y="24.4" width="0.7" height="0.7" fill="#6a9fd3"/><rect x="29.3" y="23.9" width="0.7" height="0.7" fill="#5d98d0"/><rect x="16.0" y="16.2" width="0.7" height="0.7" fill="#5d98d0"/><rect x="6.0" y="22.5" width="0.7" height="0.7" fill="#6a9fd3"/><rect x="18.2" y="20.3" width="0.9" height="0.9" fill="#5d98d0"/><rect x="6.2" y="7.6" width="0.7" height="0.7" fill="#3f7ab6"/><rect x="13.8" y="2.6" width="0.5" height="0.5" fill="#4584c0"/><rect x="7.0" y="17.4" width="0.9" height="0.9" fill="#4584c0"/><rect x="9.6" y="15.2" width="0.5" height="0.5" fill="#6a9fd3"/><rect x="6.4" y="2.8" width="0.7" height="0.7" fill="#4584c0"/><rect x="17.3" y="10.8" width="0.5" height="0.5" fill="#6a9fd3"/><rect x="1.3" y="29.9" width="0.5" height="0.5" fill="#4584c0"/><rect x="11.2" y="13.9" width="0.5" height="0.5" fill="#3f7ab6"/><rect x="9.5" y="0.9" width="0.9" height="0.9" fill="#4584c0"/><rect x="18.2" y="2.8" width="0.9" height="0.9" fill="#6a9fd3"/><rect x="14.6" y="17.0" width="0.7" height="0.7" fill="#4584c0"/><rect x="12.8" y="28.4" width="0.7" height="0.7" fill="#6a9fd3"/><rect x="25.3" y="10.2" width="0.7" height="0.7" fill="#6a9fd3"/><rect x="2.5" y="1.5" width="0.9" height="0.9" fill="#4584c0"/><rect x="13.7" y="28.4" width="0.9" height="0.9" fill="#3f7ab6"/><rect x="19.2" y="27.7" width="0.7" height="0.7" fill="#3f7ab6"/><rect x="9.6" y="7.0" width="0.9" height="0.9" fill="#3f7ab6"/><rect x="15.2" y="5.5" width="0.7" height="0.7" fill="#6a9fd3"/><rect x="29.0" y="29.8" width="0.5" height="0.5" fill="#6a9fd3"/><rect x="1.2" y="7.7" width="0.5" height="0.5" fill="#4584c0"/><rect x="27.1" y="27.1" width="0.7" height="0.7" fill="#3f7ab6"/><rect x="23.6" y="21.3" width="0.5" height="0.5" fill="#5d98d0"/><rect x="3.0" y="9.5" width="0.5" height="0.5" fill="#3f7ab6"/><rect x="20.3" y="9.0" width="0.9" height="0.9" fill="#5d98d0"/><rect x="3.2" y="9.7" width="0.7" height="0.7" fill="#4584c0"/><rect x="3.7" y="14.4" width="0.7" height="0.7" fill="#6a9fd3"/><rect x="7.2" y="4.3" width="0.7" height="0.7" fill="#3f7ab6"/><rect x="21.5" y="5.9" width="0.5" height="0.5" fill="#3f7ab6"/><rect x="27.8" y="6.6" width="0.9" height="0.9" fill="#4584c0"/><rect x="4.2" y="13.4" width="0.7" height="0.7" fill="#3f7ab6"/><rect x="25.3" y="18.9" width="0.7" height="0.7" fill="#5d98d0"/><rect x="9.7" y="7.0" width="0.9" height="0.9" fill="#3f7ab6"/><rect x="11.0" y="10.0" width="0.5" height="0.5" fill="#3f7ab6"/><rect x="21.4" y="16.6" width="0.7" height="0.7" fill="#6a9fd3"/><rect x="26.1" y="8.0" width="0.5" height="0.5" fill="#5d98d0"/><rect x="4.7" y="8.1" width="0.7" height="0.7" fill="#4584c0"/><rect x="24.1" y="7.8" width="0.7" height="0.7" fill="#3f7ab6"/><rect x="13.7" y="14.5" width="0.9" height="0.9" fill="#6a9fd3"/><rect x="1.7" y="26.9" width="0.9" height="0.9" fill="#6a9fd3"/><rect x="14.3" y="8.6" width="0.5" height="0.5" fill="#4584c0"/><rect x="29.1" y="13.0" width="0.5" height="0.5" fill="#4584c0"/><rect x="27.8" y="2.9" width="0.7" height="0.7" fill="#4584c0"/><rect x="26.9" y="1.7" width="0.5" height="0.5" fill="#4584c0"/><rect x="29.4" y="0.5" width="0.9" height="0.9" fill="#4584c0"/><rect x="4.2" y="0.1" width="0.5" height="0.5" fill="#4584c0"/><rect x="10.8" y="1.2" width="0.5" height="0.5" fill="#5d98d0"/><rect x="8.3" y="5.4" width="0.9" height="0.9" fill="#6a9fd3"/><rect x="23.1" y="21.3" width="0.9" height="0.9" fill="#6a9fd3"/><rect x="2.4" y="2.6" width="0.7" height="0.7" fill="#5d98d0"/><rect x="5.3" y="4.1" width="0.9" height="0.9" fill="#6a9fd3"/><rect x="9.2" y="0.3" width="0.9" height="0.9" fill="#5d98d0"/><rect x="27.5" y="15.6" width="0.7" height="0.7" fill="#4584c0"/><rect x="8.5" y="19.2" width="0.5" height="0.5" fill="#5d98d0"/><rect x="0.5" y="27.3" width="0.5" height="0.5" fill="#5d98d0"/><rect x="26.2" y="8.0" width="0.9" height="0.9" fill="#6a9fd3"/><rect x="24.9" y="11.0" width="0.9" height="0.9" fill="#6a9fd3"/><rect x="11.1" y="17.8" width="0.7" height="0.7" fill="#3f7ab6"/><rect x="15.6" y="13.4" width="0.5" height="0.5" fill="#3f7ab6"/><rect x="10.7" y="7.3" width="0.9" height="0.9" fill="#4584c0"/><rect x="26.0" y="17.3" width="0.7" height="0.7" fill="#3f7ab6"/><rect x="26.2" y="28.6" width="0.7" height="0.7" fill="#5d98d0"/><rect x="15.4" y="15.9" width="0.5" height="0.5" fill="#6a9fd3"/><rect x="7.3" y="2.7" width="0.5" height="0.5" fill="#6a9fd3"/><rect x="3.1" y="7.5" width="0.5" height="0.5" fill="#3f7ab6"/><rect x="2.9" y="21.0" width="0.7" height="0.7" fill="#6a9fd3"/><rect x="0.5" y="18.0" width="0.9" height="0.9" fill="#5d98d0"/><rect x="7.2" y="13.3" width="0.5" height="0.5" fill="#4584c0"/><rect x="21.5" y="1.4" width="0.7" height="0.7" fill="#3f7ab6"/><rect x="14.8" y="15.0" width="0.5" height="0.5" fill="#4584c0"/><rect x="3.7" y="12.2" width="0.9" height="0.9" fill="#6a9fd3"/><rect x="17.8" y="25.8" width="0.9" height="0.9" fill="#6a9fd3"/><rect x="17.2" y="22.4" width="0.5" height="0.5" fill="#6a9fd3"/><rect x="28.1" y="11.7" width="0.9" height="0.9" fill="#5d98d0"/><rect x="25.2" y="15.8" width="0.5" height="0.5" fill="#5d98d0"/><rect x="23.3" y="10.2" width="0.7" height="0.7" fill="#6a9fd3"/><rect x="21.5" y="25.3" width="0.7" height="0.7" fill="#4584c0"/><rect x="25.4" y="1.6" width="0.9" height="0.9" fill="#6a9fd3"/><rect x="28.0" y="7.5" width="0.9" height="0.9" fill="#5d98d0"/><rect x="19.0" y="10.9" width="0.5" height="0.5" fill="#6a9fd3"/><rect x="9.7" y="6.0" width="0.5" height="0.5" fill="#3f7ab6"/><rect x="4.2" y="29.1" width="0.9" height="0.9" fill="#5d98d0"/><rect x="1.4" y="29.4" width="0.5" height="0.5" fill="#3f7ab6"/><rect x="26.0" y="18.6" width="0.9" height="0.9" fill="#4584c0"/><rect x="16.3" y="27.7" width="0.7" height="0.7" fill="#3f7ab6"/><rect x="3.7" y="0.4" width="0.5" height="0.5" fill="#6a9fd3"/><rect x="8.6" y="9.2" width="0.5" height="0.5" fill="#6a9fd3"/><rect x="1.8" y="28.8" width="0.5" height="0.5" fill="#4584c0"/><rect x="14.0" y="16.0" width="0.7" height="0.7" fill="#6a9fd3"/><rect x="3.7" y="3.9" width="0.7" height="0.7" fill="#4584c0"/><rect x="17.3" y="8.2" width="0.9" height="0.9" fill="#3f7ab6"/><rect x="16.4" y="25.2" width="0.9" height="0.9" fill="#6a9fd3"/><rect x="11.6" y="16.5" width="0.7" height="0.7" fill="#4584c0"/><rect x="26.8" y="9.1" width="0.7" height="0.7" fill="#5d98d0"/><rect x="24.6" y="0.9" width="0.5" height="0.5" fill="#4584c0"/><rect x="5.7" y="16.4" width="0.5" height="0.5" fill="#5d98d0"/><rect x="27.7" y="4.9" width="0.7" height="0.7" fill="#6a9fd3"/><rect x="16.7" y="14.7" width="0.5" height="0.5" fill="#4584c0"/><rect x="8.9" y="23.2" width="0.9" height="0.9" fill="#6a9fd3"/><rect x="2.0" y="26.1" width="0.9" height="0.9" fill="#5d98d0"/><rect x="1.9" y="11.6" width="0.7" height="0.7" fill="#5d98d0"/><rect x="22.1" y="3.3" width="0.9" height="0.9" fill="#6a9fd3"/><rect x="22.2" y="4.6" width="0.9" height="0.9" fill="#4584c0"/><rect x="10.6" y="20.3" width="0.9" height="0.9" fill="#4584c0"/><rect x="2.9" y="25.7" width="0.7" height="0.7" fill="#5d98d0"/><rect x="23.5" y="21.3" width="0.7" height="0.7" fill="#6a9fd3"/><rect x="26.1" y="0.1" width="0.7" height="0.7" fill="#3f7ab6"/><rect x="11.9" y="29.8" width="0.7" height="0.7" fill="#6a9fd3"/><rect x="25.5" y="8.4" width="0.7" height="0.7" fill="#3f7ab6"/><rect x="25.6" y="20.8" width="0.9" height="0.9" fill="#4584c0"/><rect x="10.6" y="10.6" width="0.9" height="0.9" fill="#5d98d0"/><rect x="9.7" y="23.6" width="0.7" height="0.7" fill="#5d98d0"/><rect x="13.3" y="5.5" width="0.5" height="0.5" fill="#4584c0"/><rect x="13.1" y="11.3" width="0.5" height="0.5" fill="#6a9fd3"/><rect x="24.6" y="9.9" width="0.7" height="0.7" fill="#6a9fd3"/><rect x="6.1" y="12.8" width="0.5" height="0.5" fill="#3f7ab6"/><rect x="1.4" y="16.9" width="0.7" height="0.7" fill="#5d98d0"/><rect x="27.6" y="23.2" width="0.9" height="0.9" fill="#5d98d0"/><rect x="24.8" y="21.8" width="0.7" height="0.7" fill="#5d98d0"/><rect x="13.9" y="1.2" width="0.7" height="0.7" fill="#4584c0"/><rect x="28.4" y="20.3" width="0.5" height="0.5" fill="#6a9fd3"/><rect x="12.3" y="15.0" width="0.5" height="0.5" fill="#6a9fd3"/><rect x="28.9" y="14.6" width="0.9" height="0.9" fill="#5d98d0"/><rect x="27.0" y="17.6" width="0.5" height="0.5" fill="#3f7ab6"/><rect x="10.9" y="11.0" width="0.7" height="0.7" fill="#3f7ab6"/><rect x="15.4" y="3.3" width="0.9" height="0.9" fill="#4584c0"/><rect x="10.3" y="28.1" width="0.9" height="0.9" fill="#5d98d0"/><rect x="4.7" y="8.7" width="0.9" height="0.9" fill="#6a9fd3"/><rect x="26.8" y="12.4" width="0.9" height="0.9" fill="#3f7ab6"/><rect x="16.9" y="3.2" width="0.9" height="0.9" fill="#3f7ab6"/><rect x="12.3" y="23.6" width="0.9" height="0.9" fill="#4584c0"/><rect x="20.7" y="0.1" width="0.7" height="0.7" fill="#4584c0"/><rect x="25.3" y="17.6" width="0.5" height="0.5" fill="#3f7ab6"/><rect x="5.3" y="23.1" width="0.9" height="0.9" fill="#4584c0"/><rect x="26.9" y="15.4" width="0.9" height="0.9" fill="#6a9fd3"/><rect x="6.0" y="18.1" width="0.5" height="0.5" fill="#6a9fd3"/><rect x="15.6" y="15.3" width="0.5" height="0.5" fill="#3f7ab6"/><rect x="2.3" y="28.4" width="0.7" height="0.7" fill="#5d98d0"/><rect x="18.4" y="24.2" width="0.9" height="0.9" fill="#3f7ab6"/><rect x="0.4" y="23.1" width="0.5" height="0.5" fill="#4584c0"/><rect x="21.5" y="10.6" width="0.5" height="0.5" fill="#6a9fd3"/><rect x="8.0" y="3.0" width="0.7" height="0.7" fill="#3f7ab6"/><rect x="5.7" y="18.7" width="0.5" height="0.5" fill="#3f7ab6"/><rect x="6.6" y="11.9" width="0.7" height="0.7" fill="#3f7ab6"/><rect x="1.6" y="7.1" width="0.5" height="0.5" fill="#6a9fd3"/><rect x="4.8" y="17.6" width="0.7" height="0.7" fill="#6a9fd3"/><rect x="0.2" y="26.0" width="0.7" height="0.7" fill="#5d98d0"/><rect x="12.6" y="7.6" width="0.5" height="0.5" fill="#5d98d0"/><rect x="7.3" y="11.7" width="0.7" height="0.7" fill="#6a9fd3"/><rect x="9.3" y="26.3" width="0.5" height="0.5" fill="#5d98d0"/><rect x="23.8" y="7.3" width="0.5" height="0.5" fill="#6a9fd3"/><rect x="10.8" y="5.6" width="0.7" height="0.7" fill="#4584c0"/><rect x="16.8" y="3.4" width="0.7" height="0.7" fill="#5d98d0"/><rect x="12.1" y="2.0" width="0.7" height="0.7" fill="#3f7ab6"/><rect x="24.8" y="10.5" width="0.7" height="0.7" fill="#6a9fd3"/><rect x="5.7" y="8.5" width="0.7" height="0.7" fill="#6a9fd3"/><rect x="1.0" y="19.9" width="0.5" height="0.5" fill="#4584c0"/><rect x="7.3" y="3.9" width="0.7" height="0.7" fill="#6a9fd3"/><rect x="16.3" y="23.6" width="0.7" height="0.7" fill="#5d98d0"/><rect x="25.1" y="24.1" width="0.7" height="0.7" fill="#6a9fd3"/><rect x="10.6" y="21.7" width="0.9" height="0.9" fill="#5d98d0"/><rect x="28.8" y="6.2" width="0.9" height="0.9" fill="#5d98d0"/><rect x="6.1" y="25.8" width="0.9" height="0.9" fill="#6a9fd3"/><rect x="29.9" y="17.9" width="0.9" height="0.9" fill="#5d98d0"/><rect x="29.7" y="16.0" width="0.9" height="0.9" fill="#5d98d0"/><rect x="15.3" y="3.8" width="0.9" height="0.9" fill="#3f7ab6"/><rect x="15.4" y="16.3" width="0.9" height="0.9" fill="#4584c0"/><rect x="23.2" y="11.5" width="0.7" height="0.7" fill="#6a9fd3"/><rect x="0.5" y="21.3" width="0.5" height="0.5" fill="#6a9fd3"/><rect x="9.6" y="19.9" width="0.5" height="0.5" fill="#3f7ab6"/><rect x="16.9" y="10.8" width="0.5" height="0.5" fill="#4584c0"/><rect x="2.0" y="9.3" width="0.7" height="0.7" fill="#6a9fd3"/><rect x="3.8" y="21.5" width="0.7" height="0.7" fill="#4584c0"/><rect x="12.1" y="27.3" width="0.7" height="0.7" fill="#6a9fd3"/><rect x="5.3" y="11.0" width="0.7" height="0.7" fill="#4584c0"/><rect x="0.8" y="21.1" width="0.5" height="0.5" fill="#5d98d0"/><rect x="30.0" y="12.0" width="0.5" height="0.5" fill="#3f7ab6"/><rect x="8.7" y="8.1" width="0.9" height="0.9" fill="#6a9fd3"/><rect x="20.3" y="12.1" width="0.7" height="0.7" fill="#6a9fd3"/><rect x="5.9" y="9.1" width="0.9" height="0.9" fill="#5d98d0"/><rect x="1.2" y="9.3" width="0.9" height="0.9" fill="#6a9fd3"/><rect x="25.2" y="17.1" width="0.7" height="0.7" fill="#4584c0"/><rect x="20.1" y="17.3" width="0.5" height="0.5" fill="#3f7ab6"/><rect x="25.0" y="23.3" width="0.5" height="0.5" fill="#4584c0"/><rect x="26.3" y="17.6" width="0.5" height="0.5" fill="#3f7ab6"/><rect x="20.4" y="1.1" width="0.5" height="0.5" fill="#4584c0"/><rect x="23.3" y="10.4" width="0.7" height="0.7" fill="#3f7ab6"/><rect x="20.8" y="11.8" width="0.7" height="0.7" fill="#6a9fd3"/><rect x="15.8" y="10.5" width="0.7" height="0.7" fill="#5d98d0"/><rect x="27.9" y="20.7" width="0.9" height="0.9" fill="#5d98d0"/><rect x="1.6" y="20.9" width="0.9" height="0.9" fill="#5d98d0"/><rect x="15.4" y="27.8" width="0.7" height="0.7" fill="#6a9fd3"/><rect x="22.9" y="1.3" width="0.5" height="0.5" fill="#4584c0"/><rect x="16.4" y="29.1" width="0.9" height="0.9" fill="#6a9fd3"/><rect x="7.8" y="28.9" width="0.7" height="0.7" fill="#6a9fd3"/><rect x="10.4" y="2.8" width="0.5" height="0.5" fill="#4584c0"/><rect x="4.1" y="21.2" width="0.5" height="0.5" fill="#5d98d0"/><rect x="21.2" y="0.2" width="0.5" height="0.5" fill="#5d98d0"/><rect x="28.1" y="10.5" width="0.5" height="0.5" fill="#4584c0"/><rect x="26.5" y="4.3" width="0.7" height="0.7" fill="#6a9fd3"/><rect x="18.9" y="3.5" width="0.5" height="0.5" fill="#5d98d0"/><rect x="20.3" y="4.6" width="0.7" height="0.7" fill="#5d98d0"/><rect x="24.9" y="3.4" width="0.5" height="0.5" fill="#4584c0"/><rect x="10.8" y="6.2" width="0.7" height="0.7" fill="#3f7ab6"/><rect x="9.1" y="3.3" width="0.7" height="0.7" fill="#4584c0"/><rect x="28.9" y="4.8" width="0.7" height="0.7" fill="#5d98d0"/><rect x="17.1" y="8.7" width="0.5" height="0.5" fill="#3f7ab6"/><rect x="0.3" y="29.8" width="0.5" height="0.5" fill="#5d98d0"/><rect x="22.4" y="10.0" width="0.5" height="0.5" fill="#4584c0"/><rect x="19.4" y="28.7" width="0.5" height="0.5" fill="#5d98d0"/><rect x="23.5" y="9.7" width="0.5" height="0.5" fill="#4584c0"/><rect x="19.3" y="18.8" width="0.9" height="0.9" fill="#4584c0"/><rect x="7.4" y="4.2" width="0.5" height="0.5" fill="#3f7ab6"/><rect x="23.2" y="25.2" width="0.7" height="0.7" fill="#4584c0"/><rect x="5.6" y="19.1" width="0.5" height="0.5" fill="#6a9fd3"/><rect x="23.5" y="24.9" width="0.7" height="0.7" fill="#4584c0"/><rect x="5.5" y="24.8" width="0.5" height="0.5" fill="#4584c0"/><rect x="11.1" y="16.5" width="0.7" height="0.7" fill="#4584c0"/><rect x="7.2" y="1.2" width="0.5" height="0.5" fill="#5d98d0"/><rect x="28.3" y="14.8" width="0.9" height="0.9" fill="#5d98d0"/><rect x="4.7" y="9.0" width="0.5" height="0.5" fill="#3f7ab6"/><rect x="20.6" y="4.9" width="0.9" height="0.9" fill="#5d98d0"/><rect x="29.1" y="2.7" width="0.7" height="0.7" fill="#3f7ab6"/><rect x="14.4" y="6.5" width="0.5" height="0.5" fill="#4584c0"/><rect x="1.0" y="18.3" width="0.5" height="0.5" fill="#5d98d0"/><rect x="8.5" y="19.8" width="0.7" height="0.7" fill="#5d98d0"/><rect x="1.9" y="0.3" width="0.9" height="0.9" fill="#6a9fd3"/><rect x="4.9" y="8.9" width="0.9" height="0.9" fill="#5d98d0"/><rect x="20.3" y="17.0" width="0.5" height="0.5" fill="#5d98d0"/><rect x="16.3" y="15.5" width="0.9" height="0.9" fill="#5d98d0"/><rect x="27.3" y="26.0" width="0.9" height="0.9" fill="#5d98d0"/><rect x="18.6" y="24.3" width="0.9" height="0.9" fill="#3f7ab6"/><rect x="20.3" y="18.3" width="0.9" height="0.9" fill="#4584c0"/><rect x="17.1" y="28.6" width="0.9" height="0.9" fill="#5d98d0"/><rect x="19.4" y="9.0" width="0.9" height="0.9" fill="#4584c0"/></pattern>
<pattern id="dust2" width="30" height="30" patternUnits="userSpaceOnUse"><rect width="30" height="30" fill="#87a9cb"/><rect x="26.6" y="0.8" width="0.5" height="0.5" fill="#b0cbe3"/><rect x="20.4" y="13.4" width="0.5" height="0.5" fill="#6a8fb5"/><rect x="19.8" y="11.2" width="0.7" height="0.7" fill="#a0bcd8"/><rect x="15.9" y="16.9" width="0.7" height="0.7" fill="#a0bcd8"/><rect x="3.4" y="5.4" width="0.9" height="0.9" fill="#b0cbe3"/><rect x="22.5" y="6.6" width="0.9" height="0.9" fill="#7c9fc2"/><rect x="2.8" y="15.9" width="0.9" height="0.9" fill="#7c9fc2"/><rect x="14.7" y="16.6" width="0.9" height="0.9" fill="#b0cbe3"/><rect x="17.2" y="3.4" width="0.7" height="0.7" fill="#6a8fb5"/><rect x="20.4" y="24.0" width="0.9" height="0.9" fill="#b0cbe3"/><rect x="16.5" y="21.4" width="0.9" height="0.9" fill="#6a8fb5"/><rect x="29.7" y="21.6" width="0.7" height="0.7" fill="#6a8fb5"/><rect x="24.9" y="11.8" width="0.5" height="0.5" fill="#b0cbe3"/><rect x="16.9" y="23.2" width="0.7" height="0.7" fill="#b0cbe3"/><rect x="23.3" y="1.7" width="0.5" height="0.5" fill="#b0cbe3"/><rect x="11.2" y="0.5" width="0.7" height="0.7" fill="#b0cbe3"/><rect x="9.0" y="21.2" width="0.5" height="0.5" fill="#a0bcd8"/><rect x="18.6" y="26.2" width="0.9" height="0.9" fill="#6a8fb5"/><rect x="26.1" y="5.0" width="0.9" height="0.9" fill="#7c9fc2"/><rect x="20.4" y="24.8" width="0.5" height="0.5" fill="#6a8fb5"/><rect x="11.2" y="22.1" width="0.9" height="0.9" fill="#7c9fc2"/><rect x="14.7" y="24.5" width="0.5" height="0.5" fill="#7c9fc2"/><rect x="10.7" y="9.8" width="0.5" height="0.5" fill="#6a8fb5"/><rect x="27.8" y="20.3" width="0.7" height="0.7" fill="#7c9fc2"/><rect x="5.8" y="13.4" width="0.5" height="0.5" fill="#a0bcd8"/><rect x="23.7" y="14.6" width="0.7" height="0.7" fill="#6a8fb5"/><rect x="5.6" y="16.6" width="0.9" height="0.9" fill="#7c9fc2"/><rect x="20.1" y="25.1" width="0.9" height="0.9" fill="#7c9fc2"/><rect x="29.9" y="22.8" width="0.7" height="0.7" fill="#7c9fc2"/><rect x="0.4" y="10.3" width="0.7" height="0.7" fill="#b0cbe3"/><rect x="15.1" y="26.2" width="0.5" height="0.5" fill="#6a8fb5"/><rect x="5.5" y="24.5" width="0.7" height="0.7" fill="#a0bcd8"/><rect x="29.0" y="20.8" width="0.7" height="0.7" fill="#a0bcd8"/><rect x="6.9" y="28.7" width="0.7" height="0.7" fill="#6a8fb5"/><rect x="9.9" y="6.5" width="0.9" height="0.9" fill="#b0cbe3"/><rect x="18.7" y="6.3" width="0.9" height="0.9" fill="#7c9fc2"/><rect x="14.0" y="17.3" width="0.7" height="0.7" fill="#a0bcd8"/><rect x="9.4" y="10.1" width="0.7" height="0.7" fill="#a0bcd8"/><rect x="6.8" y="7.5" width="0.9" height="0.9" fill="#6a8fb5"/><rect x="4.4" y="20.1" width="0.7" height="0.7" fill="#7c9fc2"/><rect x="8.2" y="15.0" width="0.7" height="0.7" fill="#7c9fc2"/><rect x="17.1" y="15.8" width="0.9" height="0.9" fill="#b0cbe3"/><rect x="1.0" y="16.8" width="0.5" height="0.5" fill="#6a8fb5"/><rect x="23.2" y="19.0" width="0.7" height="0.7" fill="#6a8fb5"/><rect x="23.8" y="23.8" width="0.5" height="0.5" fill="#b0cbe3"/><rect x="20.4" y="9.1" width="0.9" height="0.9" fill="#7c9fc2"/><rect x="10.9" y="25.6" width="0.7" height="0.7" fill="#b0cbe3"/><rect x="26.2" y="21.5" width="0.5" height="0.5" fill="#7c9fc2"/><rect x="21.1" y="20.2" width="0.9" height="0.9" fill="#a0bcd8"/><rect x="11.0" y="7.3" width="0.7" height="0.7" fill="#b0cbe3"/><rect x="4.5" y="6.2" width="0.7" height="0.7" fill="#a0bcd8"/><rect x="13.4" y="17.1" width="0.5" height="0.5" fill="#7c9fc2"/><rect x="17.6" y="4.3" width="0.7" height="0.7" fill="#7c9fc2"/><rect x="21.8" y="16.5" width="0.5" height="0.5" fill="#7c9fc2"/><rect x="27.6" y="17.5" width="0.9" height="0.9" fill="#6a8fb5"/><rect x="5.4" y="17.4" width="0.7" height="0.7" fill="#a0bcd8"/><rect x="29.1" y="20.7" width="0.7" height="0.7" fill="#6a8fb5"/><rect x="9.6" y="5.3" width="0.9" height="0.9" fill="#7c9fc2"/><rect x="0.7" y="4.9" width="0.5" height="0.5" fill="#7c9fc2"/><rect x="21.1" y="6.5" width="0.7" height="0.7" fill="#a0bcd8"/><rect x="6.0" y="18.1" width="0.5" height="0.5" fill="#6a8fb5"/><rect x="7.3" y="1.7" width="0.9" height="0.9" fill="#b0cbe3"/><rect x="1.5" y="2.2" width="0.9" height="0.9" fill="#7c9fc2"/><rect x="4.1" y="5.6" width="0.9" height="0.9" fill="#6a8fb5"/><rect x="9.7" y="0.8" width="0.7" height="0.7" fill="#7c9fc2"/><rect x="26.0" y="0.8" width="0.7" height="0.7" fill="#a0bcd8"/><rect x="18.3" y="24.0" width="0.5" height="0.5" fill="#b0cbe3"/><rect x="25.9" y="23.9" width="0.9" height="0.9" fill="#6a8fb5"/><rect x="18.4" y="23.3" width="0.7" height="0.7" fill="#a0bcd8"/><rect x="28.2" y="26.2" width="0.7" height="0.7" fill="#6a8fb5"/><rect x="16.9" y="29.6" width="0.7" height="0.7" fill="#6a8fb5"/><rect x="18.4" y="21.7" width="0.5" height="0.5" fill="#7c9fc2"/><rect x="2.8" y="4.7" width="0.9" height="0.9" fill="#b0cbe3"/><rect x="23.0" y="2.7" width="0.7" height="0.7" fill="#7c9fc2"/><rect x="10.3" y="20.4" width="0.9" height="0.9" fill="#b0cbe3"/><rect x="29.4" y="17.2" width="0.9" height="0.9" fill="#b0cbe3"/><rect x="18.6" y="24.4" width="0.5" height="0.5" fill="#a0bcd8"/><rect x="23.3" y="9.3" width="0.9" height="0.9" fill="#a0bcd8"/><rect x="8.3" y="15.7" width="0.5" height="0.5" fill="#7c9fc2"/><rect x="7.6" y="16.7" width="0.9" height="0.9" fill="#6a8fb5"/><rect x="24.3" y="29.3" width="0.9" height="0.9" fill="#b0cbe3"/><rect x="6.8" y="22.7" width="0.5" height="0.5" fill="#6a8fb5"/><rect x="18.7" y="3.7" width="0.9" height="0.9" fill="#b0cbe3"/><rect x="23.3" y="7.8" width="0.9" height="0.9" fill="#7c9fc2"/><rect x="4.5" y="5.3" width="0.9" height="0.9" fill="#b0cbe3"/><rect x="0.9" y="23.3" width="0.7" height="0.7" fill="#b0cbe3"/><rect x="29.5" y="15.0" width="0.7" height="0.7" fill="#7c9fc2"/><rect x="13.8" y="9.7" width="0.5" height="0.5" fill="#6a8fb5"/><rect x="19.8" y="0.5" width="0.9" height="0.9" fill="#a0bcd8"/><rect x="25.9" y="1.8" width="0.7" height="0.7" fill="#a0bcd8"/><rect x="27.2" y="11.3" width="0.5" height="0.5" fill="#b0cbe3"/><rect x="7.6" y="7.9" width="0.5" height="0.5" fill="#a0bcd8"/><rect x="6.9" y="6.1" width="0.9" height="0.9" fill="#a0bcd8"/><rect x="8.4" y="26.4" width="0.5" height="0.5" fill="#a0bcd8"/><rect x="29.4" y="23.7" width="0.7" height="0.7" fill="#a0bcd8"/><rect x="28.6" y="4.1" width="0.7" height="0.7" fill="#7c9fc2"/><rect x="2.7" y="0.1" width="0.5" height="0.5" fill="#b0cbe3"/><rect x="9.6" y="18.3" width="0.5" height="0.5" fill="#a0bcd8"/><rect x="17.4" y="26.5" width="0.9" height="0.9" fill="#b0cbe3"/><rect x="10.8" y="23.4" width="0.5" height="0.5" fill="#a0bcd8"/><rect x="13.0" y="4.2" width="0.9" height="0.9" fill="#7c9fc2"/><rect x="0.7" y="3.3" width="0.5" height="0.5" fill="#6a8fb5"/><rect x="27.3" y="4.5" width="0.5" height="0.5" fill="#7c9fc2"/><rect x="22.5" y="13.9" width="0.5" height="0.5" fill="#a0bcd8"/><rect x="12.4" y="19.3" width="0.7" height="0.7" fill="#a0bcd8"/><rect x="29.4" y="1.0" width="0.5" height="0.5" fill="#b0cbe3"/><rect x="23.8" y="20.7" width="0.5" height="0.5" fill="#6a8fb5"/><rect x="15.1" y="6.9" width="0.9" height="0.9" fill="#a0bcd8"/><rect x="3.1" y="0.6" width="0.5" height="0.5" fill="#7c9fc2"/><rect x="26.4" y="3.6" width="0.5" height="0.5" fill="#a0bcd8"/><rect x="15.8" y="0.1" width="0.9" height="0.9" fill="#b0cbe3"/><rect x="16.2" y="19.0" width="0.9" height="0.9" fill="#6a8fb5"/><rect x="10.6" y="14.9" width="0.7" height="0.7" fill="#6a8fb5"/><rect x="29.1" y="25.6" width="0.9" height="0.9" fill="#b0cbe3"/><rect x="2.2" y="21.1" width="0.7" height="0.7" fill="#6a8fb5"/><rect x="8.1" y="29.0" width="0.9" height="0.9" fill="#b0cbe3"/><rect x="1.4" y="23.7" width="0.7" height="0.7" fill="#7c9fc2"/><rect x="0.3" y="20.6" width="0.9" height="0.9" fill="#a0bcd8"/><rect x="8.5" y="9.9" width="0.9" height="0.9" fill="#a0bcd8"/><rect x="21.5" y="12.0" width="0.9" height="0.9" fill="#7c9fc2"/><rect x="12.6" y="29.2" width="0.7" height="0.7" fill="#a0bcd8"/><rect x="26.5" y="24.1" width="0.5" height="0.5" fill="#6a8fb5"/><rect x="18.2" y="27.8" width="0.9" height="0.9" fill="#7c9fc2"/><rect x="18.3" y="11.3" width="0.5" height="0.5" fill="#b0cbe3"/><rect x="19.9" y="2.6" width="0.9" height="0.9" fill="#6a8fb5"/><rect x="1.5" y="20.8" width="0.9" height="0.9" fill="#7c9fc2"/><rect x="19.4" y="16.5" width="0.7" height="0.7" fill="#7c9fc2"/><rect x="29.1" y="0.0" width="0.9" height="0.9" fill="#a0bcd8"/><rect x="10.3" y="16.4" width="0.5" height="0.5" fill="#a0bcd8"/><rect x="24.7" y="23.7" width="0.7" height="0.7" fill="#a0bcd8"/><rect x="21.4" y="11.8" width="0.9" height="0.9" fill="#7c9fc2"/><rect x="19.8" y="24.8" width="0.9" height="0.9" fill="#6a8fb5"/><rect x="23.9" y="19.9" width="0.7" height="0.7" fill="#7c9fc2"/><rect x="27.3" y="14.2" width="0.9" height="0.9" fill="#7c9fc2"/><rect x="17.7" y="17.1" width="0.5" height="0.5" fill="#b0cbe3"/><rect x="27.8" y="15.9" width="0.9" height="0.9" fill="#b0cbe3"/><rect x="5.1" y="11.0" width="0.5" height="0.5" fill="#b0cbe3"/><rect x="24.7" y="13.8" width="0.7" height="0.7" fill="#6a8fb5"/><rect x="11.4" y="25.0" width="0.5" height="0.5" fill="#a0bcd8"/><rect x="12.3" y="21.1" width="0.5" height="0.5" fill="#a0bcd8"/><rect x="10.9" y="19.9" width="0.7" height="0.7" fill="#7c9fc2"/><rect x="19.9" y="8.3" width="0.7" height="0.7" fill="#7c9fc2"/><rect x="20.9" y="13.5" width="0.9" height="0.9" fill="#a0bcd8"/><rect x="23.9" y="22.8" width="0.5" height="0.5" fill="#b0cbe3"/><rect x="20.4" y="11.0" width="0.9" height="0.9" fill="#b0cbe3"/><rect x="11.1" y="10.2" width="0.7" height="0.7" fill="#a0bcd8"/><rect x="0.5" y="6.0" width="0.5" height="0.5" fill="#7c9fc2"/><rect x="17.7" y="9.2" width="0.7" height="0.7" fill="#7c9fc2"/><rect x="7.7" y="8.0" width="0.5" height="0.5" fill="#a0bcd8"/><rect x="15.8" y="14.8" width="0.5" height="0.5" fill="#6a8fb5"/><rect x="3.8" y="28.8" width="0.9" height="0.9" fill="#7c9fc2"/><rect x="23.4" y="27.6" width="0.7" height="0.7" fill="#a0bcd8"/><rect x="11.0" y="21.4" width="0.7" height="0.7" fill="#7c9fc2"/><rect x="12.9" y="18.2" width="0.7" height="0.7" fill="#7c9fc2"/><rect x="7.2" y="25.5" width="0.9" height="0.9" fill="#b0cbe3"/><rect x="5.7" y="29.1" width="0.5" height="0.5" fill="#7c9fc2"/><rect x="20.0" y="9.9" width="0.5" height="0.5" fill="#6a8fb5"/><rect x="22.7" y="11.4" width="0.7" height="0.7" fill="#a0bcd8"/><rect x="28.1" y="19.3" width="0.5" height="0.5" fill="#6a8fb5"/><rect x="17.8" y="13.9" width="0.9" height="0.9" fill="#a0bcd8"/><rect x="25.2" y="12.4" width="0.5" height="0.5" fill="#a0bcd8"/><rect x="26.7" y="13.2" width="0.5" height="0.5" fill="#a0bcd8"/><rect x="15.4" y="24.7" width="0.9" height="0.9" fill="#b0cbe3"/><rect x="6.0" y="16.2" width="0.9" height="0.9" fill="#7c9fc2"/><rect x="9.9" y="11.6" width="0.5" height="0.5" fill="#a0bcd8"/><rect x="2.7" y="25.4" width="0.5" height="0.5" fill="#6a8fb5"/><rect x="14.9" y="25.4" width="0.9" height="0.9" fill="#b0cbe3"/><rect x="13.6" y="24.7" width="0.9" height="0.9" fill="#b0cbe3"/><rect x="10.1" y="25.9" width="0.9" height="0.9" fill="#a0bcd8"/><rect x="4.2" y="12.2" width="0.9" height="0.9" fill="#6a8fb5"/><rect x="4.4" y="10.0" width="0.5" height="0.5" fill="#6a8fb5"/><rect x="29.7" y="8.2" width="0.5" height="0.5" fill="#7c9fc2"/><rect x="9.4" y="7.7" width="0.9" height="0.9" fill="#7c9fc2"/><rect x="11.8" y="26.6" width="0.7" height="0.7" fill="#6a8fb5"/><rect x="9.1" y="26.0" width="0.9" height="0.9" fill="#a0bcd8"/><rect x="7.7" y="6.1" width="0.5" height="0.5" fill="#6a8fb5"/><rect x="16.1" y="11.2" width="0.9" height="0.9" fill="#a0bcd8"/><rect x="14.7" y="17.5" width="0.7" height="0.7" fill="#7c9fc2"/><rect x="6.0" y="27.6" width="0.9" height="0.9" fill="#6a8fb5"/><rect x="9.4" y="16.0" width="0.9" height="0.9" fill="#a0bcd8"/><rect x="24.7" y="1.1" width="0.7" height="0.7" fill="#b0cbe3"/><rect x="8.7" y="21.3" width="0.7" height="0.7" fill="#a0bcd8"/><rect x="28.0" y="13.3" width="0.5" height="0.5" fill="#b0cbe3"/><rect x="5.4" y="25.7" width="0.5" height="0.5" fill="#6a8fb5"/><rect x="4.1" y="26.4" width="0.5" height="0.5" fill="#a0bcd8"/><rect x="0.4" y="21.6" width="0.7" height="0.7" fill="#b0cbe3"/><rect x="6.6" y="21.6" width="0.5" height="0.5" fill="#7c9fc2"/><rect x="16.0" y="4.8" width="0.9" height="0.9" fill="#b0cbe3"/><rect x="3.0" y="2.9" width="0.5" height="0.5" fill="#6a8fb5"/><rect x="12.4" y="19.8" width="0.9" height="0.9" fill="#7c9fc2"/><rect x="27.2" y="20.6" width="0.5" height="0.5" fill="#b0cbe3"/><rect x="27.7" y="4.0" width="0.7" height="0.7" fill="#b0cbe3"/><rect x="8.8" y="7.0" width="0.9" height="0.9" fill="#7c9fc2"/><rect x="16.8" y="4.6" width="0.7" height="0.7" fill="#7c9fc2"/><rect x="16.5" y="6.4" width="0.7" height="0.7" fill="#b0cbe3"/><rect x="29.2" y="9.8" width="0.9" height="0.9" fill="#b0cbe3"/><rect x="8.7" y="19.6" width="0.5" height="0.5" fill="#6a8fb5"/><rect x="13.9" y="21.8" width="0.7" height="0.7" fill="#a0bcd8"/><rect x="20.4" y="3.4" width="0.5" height="0.5" fill="#7c9fc2"/><rect x="19.7" y="6.3" width="0.7" height="0.7" fill="#6a8fb5"/><rect x="14.7" y="0.5" width="0.5" height="0.5" fill="#a0bcd8"/><rect x="6.0" y="8.4" width="0.9" height="0.9" fill="#7c9fc2"/><rect x="17.5" y="22.7" width="0.5" height="0.5" fill="#b0cbe3"/><rect x="14.1" y="23.0" width="0.9" height="0.9" fill="#b0cbe3"/><rect x="27.7" y="1.0" width="0.5" height="0.5" fill="#6a8fb5"/><rect x="10.3" y="28.3" width="0.5" height="0.5" fill="#7c9fc2"/><rect x="5.2" y="10.5" width="0.5" height="0.5" fill="#a0bcd8"/><rect x="9.9" y="10.9" width="0.7" height="0.7" fill="#6a8fb5"/><rect x="24.3" y="21.7" width="0.5" height="0.5" fill="#a0bcd8"/><rect x="22.4" y="3.4" width="0.9" height="0.9" fill="#b0cbe3"/><rect x="11.8" y="1.1" width="0.9" height="0.9" fill="#6a8fb5"/><rect x="17.4" y="12.4" width="0.7" height="0.7" fill="#b0cbe3"/><rect x="17.3" y="10.6" width="0.9" height="0.9" fill="#7c9fc2"/><rect x="19.9" y="4.9" width="0.9" height="0.9" fill="#b0cbe3"/><rect x="28.2" y="9.9" width="0.7" height="0.7" fill="#a0bcd8"/><rect x="4.5" y="2.8" width="0.5" height="0.5" fill="#b0cbe3"/><rect x="4.6" y="8.1" width="0.7" height="0.7" fill="#6a8fb5"/><rect x="14.0" y="4.9" width="0.9" height="0.9" fill="#6a8fb5"/><rect x="7.7" y="28.5" width="0.7" height="0.7" fill="#7c9fc2"/><rect x="16.7" y="29.6" width="0.9" height="0.9" fill="#b0cbe3"/><rect x="26.1" y="15.1" width="0.5" height="0.5" fill="#6a8fb5"/><rect x="3.2" y="1.6" width="0.9" height="0.9" fill="#b0cbe3"/><rect x="22.3" y="2.6" width="0.5" height="0.5" fill="#b0cbe3"/><rect x="25.2" y="29.9" width="0.7" height="0.7" fill="#a0bcd8"/><rect x="18.7" y="3.3" width="0.5" height="0.5" fill="#6a8fb5"/><rect x="19.9" y="6.5" width="0.9" height="0.9" fill="#b0cbe3"/><rect x="23.2" y="15.4" width="0.5" height="0.5" fill="#6a8fb5"/><rect x="2.2" y="10.1" width="0.5" height="0.5" fill="#6a8fb5"/><rect x="6.4" y="23.2" width="0.7" height="0.7" fill="#b0cbe3"/><rect x="10.3" y="24.3" width="0.9" height="0.9" fill="#a0bcd8"/><rect x="27.6" y="0.3" width="0.7" height="0.7" fill="#a0bcd8"/><rect x="1.0" y="23.7" width="0.9" height="0.9" fill="#b0cbe3"/><rect x="15.3" y="5.0" width="0.5" height="0.5" fill="#7c9fc2"/><rect x="6.1" y="27.7" width="0.9" height="0.9" fill="#7c9fc2"/><rect x="29.3" y="29.9" width="0.5" height="0.5" fill="#a0bcd8"/><rect x="14.9" y="23.4" width="0.9" height="0.9" fill="#6a8fb5"/><rect x="19.1" y="6.0" width="0.7" height="0.7" fill="#6a8fb5"/><rect x="23.6" y="2.8" width="0.9" height="0.9" fill="#7c9fc2"/><rect x="4.9" y="29.0" width="0.5" height="0.5" fill="#a0bcd8"/><rect x="7.8" y="20.8" width="0.5" height="0.5" fill="#7c9fc2"/><rect x="22.3" y="25.0" width="0.7" height="0.7" fill="#b0cbe3"/><rect x="11.6" y="19.2" width="0.9" height="0.9" fill="#7c9fc2"/><rect x="28.8" y="16.0" width="0.5" height="0.5" fill="#6a8fb5"/><rect x="29.1" y="23.6" width="0.5" height="0.5" fill="#7c9fc2"/><rect x="7.2" y="17.6" width="0.7" height="0.7" fill="#b0cbe3"/><rect x="17.3" y="28.0" width="0.7" height="0.7" fill="#6a8fb5"/><rect x="19.9" y="11.8" width="0.7" height="0.7" fill="#7c9fc2"/><rect x="12.2" y="2.6" width="0.9" height="0.9" fill="#7c9fc2"/><rect x="17.8" y="25.1" width="0.5" height="0.5" fill="#7c9fc2"/><rect x="9.0" y="18.1" width="0.7" height="0.7" fill="#6a8fb5"/><rect x="12.6" y="18.1" width="0.5" height="0.5" fill="#a0bcd8"/><rect x="10.1" y="6.4" width="0.7" height="0.7" fill="#7c9fc2"/><rect x="25.3" y="18.6" width="0.7" height="0.7" fill="#7c9fc2"/><rect x="2.6" y="8.1" width="0.7" height="0.7" fill="#a0bcd8"/><rect x="19.8" y="24.2" width="0.5" height="0.5" fill="#6a8fb5"/><rect x="20.5" y="1.2" width="0.7" height="0.7" fill="#b0cbe3"/><rect x="8.1" y="28.7" width="0.5" height="0.5" fill="#7c9fc2"/><rect x="6.7" y="26.7" width="0.7" height="0.7" fill="#a0bcd8"/><rect x="15.0" y="28.7" width="0.5" height="0.5" fill="#b0cbe3"/><rect x="11.7" y="0.3" width="0.5" height="0.5" fill="#b0cbe3"/><rect x="28.4" y="13.6" width="0.9" height="0.9" fill="#7c9fc2"/><rect x="10.6" y="3.0" width="0.5" height="0.5" fill="#a0bcd8"/><rect x="27.9" y="26.8" width="0.5" height="0.5" fill="#a0bcd8"/><rect x="15.4" y="9.9" width="0.7" height="0.7" fill="#7c9fc2"/><rect x="10.9" y="19.8" width="0.9" height="0.9" fill="#a0bcd8"/><rect x="24.3" y="1.8" width="0.7" height="0.7" fill="#a0bcd8"/><rect x="10.9" y="29.3" width="0.9" height="0.9" fill="#6a8fb5"/><rect x="3.6" y="11.3" width="0.9" height="0.9" fill="#7c9fc2"/><rect x="26.7" y="21.9" width="0.5" height="0.5" fill="#a0bcd8"/><rect x="28.4" y="14.5" width="0.7" height="0.7" fill="#6a8fb5"/><rect x="4.3" y="17.6" width="0.7" height="0.7" fill="#6a8fb5"/><rect x="5.2" y="17.7" width="0.9" height="0.9" fill="#7c9fc2"/><rect x="22.9" y="8.7" width="0.7" height="0.7" fill="#6a8fb5"/><rect x="16.4" y="12.2" width="0.9" height="0.9" fill="#6a8fb5"/><rect x="19.2" y="14.8" width="0.9" height="0.9" fill="#7c9fc2"/><rect x="27.1" y="9.7" width="0.5" height="0.5" fill="#a0bcd8"/><rect x="23.8" y="10.4" width="0.5" height="0.5" fill="#b0cbe3"/><rect x="15.5" y="26.3" width="0.7" height="0.7" fill="#b0cbe3"/><rect x="22.2" y="5.1" width="0.5" height="0.5" fill="#7c9fc2"/><rect x="17.6" y="29.1" width="0.9" height="0.9" fill="#7c9fc2"/><rect x="5.6" y="9.3" width="0.5" height="0.5" fill="#a0bcd8"/><rect x="18.6" y="27.8" width="0.5" height="0.5" fill="#a0bcd8"/><rect x="20.4" y="10.9" width="0.7" height="0.7" fill="#7c9fc2"/><rect x="23.8" y="14.2" width="0.5" height="0.5" fill="#6a8fb5"/><rect x="27.8" y="18.7" width="0.9" height="0.9" fill="#a0bcd8"/><rect x="4.8" y="26.8" width="0.5" height="0.5" fill="#6a8fb5"/><rect x="8.4" y="16.1" width="0.5" height="0.5" fill="#a0bcd8"/><rect x="8.3" y="10.9" width="0.9" height="0.9" fill="#a0bcd8"/><rect x="24.3" y="25.5" width="0.7" height="0.7" fill="#6a8fb5"/><rect x="13.5" y="0.4" width="0.7" height="0.7" fill="#7c9fc2"/><rect x="18.1" y="10.8" width="0.5" height="0.5" fill="#b0cbe3"/><rect x="26.3" y="2.9" width="0.9" height="0.9" fill="#a0bcd8"/><rect x="3.3" y="9.2" width="0.9" height="0.9" fill="#b0cbe3"/><rect x="19.0" y="20.8" width="0.7" height="0.7" fill="#a0bcd8"/><rect x="25.2" y="23.7" width="0.7" height="0.7" fill="#7c9fc2"/><rect x="11.8" y="24.2" width="0.5" height="0.5" fill="#7c9fc2"/><rect x="21.4" y="4.3" width="0.9" height="0.9" fill="#a0bcd8"/><rect x="27.8" y="8.7" width="0.7" height="0.7" fill="#b0cbe3"/><rect x="20.5" y="27.7" width="0.9" height="0.9" fill="#6a8fb5"/><rect x="0.1" y="17.2" width="0.9" height="0.9" fill="#b0cbe3"/><rect x="13.0" y="6.4" width="0.9" height="0.9" fill="#7c9fc2"/><rect x="23.7" y="25.2" width="0.5" height="0.5" fill="#b0cbe3"/><rect x="20.1" y="22.6" width="0.7" height="0.7" fill="#6a8fb5"/><rect x="27.0" y="22.3" width="0.7" height="0.7" fill="#a0bcd8"/><rect x="3.9" y="21.1" width="0.9" height="0.9" fill="#a0bcd8"/><rect x="26.9" y="21.4" width="0.9" height="0.9" fill="#7c9fc2"/><rect x="6.4" y="6.7" width="0.7" height="0.7" fill="#6a8fb5"/><rect x="20.3" y="29.2" width="0.7" height="0.7" fill="#6a8fb5"/><rect x="0.7" y="15.5" width="0.7" height="0.7" fill="#6a8fb5"/><rect x="6.6" y="13.7" width="0.7" height="0.7" fill="#b0cbe3"/><rect x="8.3" y="1.8" width="0.9" height="0.9" fill="#a0bcd8"/><rect x="16.6" y="24.2" width="0.9" height="0.9" fill="#6a8fb5"/><rect x="24.8" y="3.3" width="0.7" height="0.7" fill="#b0cbe3"/><rect x="18.9" y="10.2" width="0.9" height="0.9" fill="#7c9fc2"/><rect x="17.1" y="6.5" width="0.7" height="0.7" fill="#b0cbe3"/><rect x="25.2" y="24.3" width="0.5" height="0.5" fill="#6a8fb5"/><rect x="23.3" y="0.9" width="0.7" height="0.7" fill="#7c9fc2"/><rect x="11.2" y="28.6" width="0.9" height="0.9" fill="#7c9fc2"/><rect x="2.7" y="3.4" width="0.9" height="0.9" fill="#a0bcd8"/><rect x="28.6" y="12.3" width="0.7" height="0.7" fill="#6a8fb5"/><rect x="28.8" y="9.9" width="0.5" height="0.5" fill="#7c9fc2"/><rect x="19.3" y="17.3" width="0.7" height="0.7" fill="#a0bcd8"/><rect x="29.1" y="26.4" width="0.5" height="0.5" fill="#a0bcd8"/><rect x="10.3" y="5.7" width="0.5" height="0.5" fill="#a0bcd8"/><rect x="8.5" y="5.8" width="0.7" height="0.7" fill="#6a8fb5"/><rect x="23.3" y="23.7" width="0.7" height="0.7" fill="#b0cbe3"/><rect x="6.0" y="22.7" width="0.9" height="0.9" fill="#7c9fc2"/><rect x="23.6" y="0.7" width="0.5" height="0.5" fill="#6a8fb5"/><rect x="10.6" y="12.5" width="0.9" height="0.9" fill="#7c9fc2"/><rect x="10.7" y="4.9" width="0.7" height="0.7" fill="#7c9fc2"/><rect x="9.2" y="1.3" width="0.9" height="0.9" fill="#b0cbe3"/><rect x="10.7" y="27.0" width="0.5" height="0.5" fill="#a0bcd8"/><rect x="10.3" y="25.7" width="0.7" height="0.7" fill="#7c9fc2"/><rect x="14.6" y="2.5" width="0.7" height="0.7" fill="#7c9fc2"/><rect x="14.3" y="24.7" width="0.5" height="0.5" fill="#b0cbe3"/><rect x="15.8" y="7.5" width="0.5" height="0.5" fill="#a0bcd8"/><rect x="10.6" y="19.7" width="0.9" height="0.9" fill="#b0cbe3"/><rect x="8.3" y="24.4" width="0.9" height="0.9" fill="#a0bcd8"/><rect x="21.8" y="4.8" width="0.5" height="0.5" fill="#a0bcd8"/><rect x="4.1" y="3.3" width="0.5" height="0.5" fill="#a0bcd8"/><rect x="0.3" y="24.9" width="0.7" height="0.7" fill="#6a8fb5"/><rect x="23.4" y="6.1" width="0.7" height="0.7" fill="#6a8fb5"/><rect x="10.2" y="16.8" width="0.7" height="0.7" fill="#a0bcd8"/><rect x="23.1" y="27.1" width="0.5" height="0.5" fill="#6a8fb5"/><rect x="6.1" y="10.6" width="0.5" height="0.5" fill="#6a8fb5"/><rect x="17.7" y="3.8" width="0.7" height="0.7" fill="#b0cbe3"/><rect x="13.7" y="17.6" width="0.5" height="0.5" fill="#a0bcd8"/><rect x="17.1" y="21.6" width="0.5" height="0.5" fill="#a0bcd8"/><rect x="12.0" y="20.2" width="0.9" height="0.9" fill="#b0cbe3"/><rect x="19.5" y="20.8" width="0.9" height="0.9" fill="#a0bcd8"/><rect x="4.3" y="27.3" width="0.5" height="0.5" fill="#a0bcd8"/><rect x="21.0" y="24.0" width="0.5" height="0.5" fill="#b0cbe3"/><rect x="11.8" y="23.6" width="0.9" height="0.9" fill="#b0cbe3"/><rect x="22.2" y="19.4" width="0.5" height="0.5" fill="#b0cbe3"/><rect x="27.2" y="6.0" width="0.5" height="0.5" fill="#6a8fb5"/><rect x="14.0" y="12.1" width="0.9" height="0.9" fill="#b0cbe3"/><rect x="1.3" y="16.7" width="0.7" height="0.7" fill="#a0bcd8"/><rect x="1.2" y="14.0" width="0.5" height="0.5" fill="#a0bcd8"/><rect x="22.8" y="26.5" width="0.5" height="0.5" fill="#6a8fb5"/><rect x="4.3" y="15.9" width="0.5" height="0.5" fill="#7c9fc2"/><rect x="15.3" y="28.7" width="0.5" height="0.5" fill="#a0bcd8"/><rect x="2.2" y="0.9" width="0.9" height="0.9" fill="#6a8fb5"/><rect x="16.8" y="18.4" width="0.9" height="0.9" fill="#6a8fb5"/><rect x="1.6" y="16.4" width="0.7" height="0.7" fill="#7c9fc2"/><rect x="11.9" y="0.2" width="0.5" height="0.5" fill="#b0cbe3"/><rect x="5.6" y="15.2" width="0.5" height="0.5" fill="#a0bcd8"/><rect x="3.7" y="19.5" width="0.9" height="0.9" fill="#b0cbe3"/><rect x="12.9" y="3.3" width="0.9" height="0.9" fill="#6a8fb5"/><rect x="15.6" y="20.3" width="0.9" height="0.9" fill="#6a8fb5"/><rect x="7.2" y="26.4" width="0.5" height="0.5" fill="#6a8fb5"/><rect x="11.0" y="9.1" width="0.5" height="0.5" fill="#7c9fc2"/><rect x="14.8" y="17.3" width="0.5" height="0.5" fill="#7c9fc2"/><rect x="0.2" y="2.2" width="0.9" height="0.9" fill="#6a8fb5"/><rect x="20.8" y="18.0" width="0.7" height="0.7" fill="#a0bcd8"/><rect x="29.5" y="27.7" width="0.9" height="0.9" fill="#b0cbe3"/><rect x="22.6" y="2.4" width="0.5" height="0.5" fill="#6a8fb5"/><rect x="21.5" y="0.9" width="0.7" height="0.7" fill="#b0cbe3"/><rect x="24.0" y="1.6" width="0.7" height="0.7" fill="#7c9fc2"/><rect x="7.7" y="4.0" width="0.7" height="0.7" fill="#7c9fc2"/><rect x="0.9" y="11.5" width="0.7" height="0.7" fill="#b0cbe3"/><rect x="4.9" y="28.4" width="0.9" height="0.9" fill="#a0bcd8"/><rect x="25.1" y="29.8" width="0.7" height="0.7" fill="#7c9fc2"/><rect x="24.1" y="0.4" width="0.7" height="0.7" fill="#6a8fb5"/><rect x="6.9" y="26.6" width="0.5" height="0.5" fill="#7c9fc2"/><rect x="23.1" y="23.2" width="0.5" height="0.5" fill="#7c9fc2"/><rect x="16.0" y="3.1" width="0.7" height="0.7" fill="#7c9fc2"/><rect x="18.8" y="11.0" width="0.7" height="0.7" fill="#6a8fb5"/><rect x="4.8" y="15.9" width="0.7" height="0.7" fill="#b0cbe3"/><rect x="27.9" y="15.6" width="0.9" height="0.9" fill="#6a8fb5"/><rect x="6.4" y="8.6" width="0.9" height="0.9" fill="#6a8fb5"/><rect x="7.8" y="21.5" width="0.9" height="0.9" fill="#b0cbe3"/><rect x="13.1" y="20.6" width="0.7" height="0.7" fill="#7c9fc2"/><rect x="7.5" y="7.7" width="0.5" height="0.5" fill="#6a8fb5"/><rect x="20.7" y="6.3" width="0.9" height="0.9" fill="#7c9fc2"/><rect x="28.9" y="19.3" width="0.9" height="0.9" fill="#b0cbe3"/><rect x="2.1" y="2.0" width="0.7" height="0.7" fill="#a0bcd8"/><rect x="2.3" y="21.9" width="0.5" height="0.5" fill="#6a8fb5"/><rect x="10.8" y="4.3" width="0.9" height="0.9" fill="#6a8fb5"/><rect x="14.8" y="29.1" width="0.7" height="0.7" fill="#7c9fc2"/><rect x="5.3" y="3.0" width="0.7" height="0.7" fill="#7c9fc2"/><rect x="12.3" y="20.7" width="0.9" height="0.9" fill="#a0bcd8"/><rect x="26.3" y="25.8" width="0.7" height="0.7" fill="#a0bcd8"/><rect x="9.7" y="6.2" width="0.5" height="0.5" fill="#a0bcd8"/><rect x="3.2" y="6.3" width="0.9" height="0.9" fill="#7c9fc2"/><rect x="10.1" y="18.7" width="0.5" height="0.5" fill="#b0cbe3"/><rect x="27.1" y="4.7" width="0.9" height="0.9" fill="#7c9fc2"/><rect x="7.9" y="1.4" width="0.5" height="0.5" fill="#a0bcd8"/><rect x="25.1" y="1.7" width="0.9" height="0.9" fill="#7c9fc2"/><rect x="2.7" y="17.5" width="0.5" height="0.5" fill="#6a8fb5"/><rect x="8.9" y="8.0" width="0.7" height="0.7" fill="#b0cbe3"/><rect x="10.9" y="21.7" width="0.7" height="0.7" fill="#b0cbe3"/><rect x="23.6" y="7.5" width="0.5" height="0.5" fill="#7c9fc2"/><rect x="15.7" y="3.3" width="0.5" height="0.5" fill="#b0cbe3"/><rect x="8.6" y="11.4" width="0.5" height="0.5" fill="#6a8fb5"/><rect x="19.5" y="26.6" width="0.7" height="0.7" fill="#a0bcd8"/><rect x="7.2" y="26.8" width="0.5" height="0.5" fill="#7c9fc2"/><rect x="1.5" y="19.9" width="0.5" height="0.5" fill="#7c9fc2"/><rect x="8.5" y="14.2" width="0.5" height="0.5" fill="#a0bcd8"/><rect x="3.3" y="16.7" width="0.5" height="0.5" fill="#a0bcd8"/><rect x="12.1" y="14.5" width="0.5" height="0.5" fill="#b0cbe3"/><rect x="12.8" y="1.8" width="0.5" height="0.5" fill="#b0cbe3"/><rect x="8.0" y="13.3" width="0.7" height="0.7" fill="#b0cbe3"/><rect x="16.6" y="2.1" width="0.7" height="0.7" fill="#b0cbe3"/><rect x="22.3" y="16.9" width="0.5" height="0.5" fill="#a0bcd8"/><rect x="1.8" y="13.0" width="0.5" height="0.5" fill="#6a8fb5"/><rect x="15.6" y="15.3" width="0.5" height="0.5" fill="#7c9fc2"/><rect x="3.0" y="14.3" width="0.7" height="0.7" fill="#a0bcd8"/><rect x="23.6" y="4.0" width="0.9" height="0.9" fill="#a0bcd8"/><rect x="9.5" y="6.2" width="0.5" height="0.5" fill="#7c9fc2"/><rect x="3.6" y="29.5" width="0.7" height="0.7" fill="#a0bcd8"/><rect x="5.4" y="0.3" width="0.9" height="0.9" fill="#6a8fb5"/><rect x="14.1" y="22.2" width="0.7" height="0.7" fill="#b0cbe3"/><rect x="19.9" y="4.2" width="0.5" height="0.5" fill="#7c9fc2"/><rect x="11.6" y="26.6" width="0.9" height="0.9" fill="#7c9fc2"/><rect x="1.3" y="25.7" width="0.9" height="0.9" fill="#b0cbe3"/><rect x="6.8" y="17.9" width="0.7" height="0.7" fill="#6a8fb5"/><rect x="6.5" y="1.1" width="0.5" height="0.5" fill="#a0bcd8"/><rect x="25.2" y="9.1" width="0.9" height="0.9" fill="#7c9fc2"/><rect x="6.0" y="2.0" width="0.9" height="0.9" fill="#6a8fb5"/><rect x="5.0" y="10.8" width="0.5" height="0.5" fill="#a0bcd8"/><rect x="2.0" y="11.2" width="0.9" height="0.9" fill="#a0bcd8"/><rect x="29.8" y="18.6" width="0.5" height="0.5" fill="#b0cbe3"/><rect x="25.0" y="6.1" width="0.7" height="0.7" fill="#a0bcd8"/><rect x="6.8" y="28.8" width="0.5" height="0.5" fill="#7c9fc2"/><rect x="12.2" y="10.3" width="0.9" height="0.9" fill="#6a8fb5"/><rect x="11.2" y="4.9" width="0.5" height="0.5" fill="#6a8fb5"/><rect x="18.2" y="7.7" width="0.7" height="0.7" fill="#a0bcd8"/><rect x="16.9" y="21.4" width="0.7" height="0.7" fill="#b0cbe3"/><rect x="7.2" y="3.6" width="0.5" height="0.5" fill="#a0bcd8"/><rect x="27.3" y="30.0" width="0.9" height="0.9" fill="#b0cbe3"/><rect x="9.6" y="22.6" width="0.5" height="0.5" fill="#b0cbe3"/><rect x="12.7" y="2.4" width="0.7" height="0.7" fill="#a0bcd8"/><rect x="7.6" y="17.1" width="0.5" height="0.5" fill="#b0cbe3"/><rect x="28.7" y="8.1" width="0.5" height="0.5" fill="#a0bcd8"/><rect x="1.5" y="27.4" width="0.5" height="0.5" fill="#6a8fb5"/><rect x="27.1" y="2.1" width="0.5" height="0.5" fill="#b0cbe3"/><rect x="12.6" y="15.9" width="0.9" height="0.9" fill="#7c9fc2"/><rect x="19.6" y="15.4" width="0.7" height="0.7" fill="#6a8fb5"/><rect x="7.3" y="19.7" width="0.9" height="0.9" fill="#7c9fc2"/><rect x="28.9" y="5.8" width="0.9" height="0.9" fill="#6a8fb5"/><rect x="26.9" y="17.1" width="0.9" height="0.9" fill="#b0cbe3"/><rect x="28.7" y="19.3" width="0.7" height="0.7" fill="#a0bcd8"/><rect x="28.7" y="7.7" width="0.9" height="0.9" fill="#6a8fb5"/><rect x="22.2" y="18.7" width="0.5" height="0.5" fill="#a0bcd8"/><rect x="20.2" y="24.0" width="0.7" height="0.7" fill="#6a8fb5"/><rect x="14.3" y="20.3" width="0.7" height="0.7" fill="#b0cbe3"/><rect x="28.8" y="23.6" width="0.7" height="0.7" fill="#b0cbe3"/><rect x="2.7" y="29.1" width="0.7" height="0.7" fill="#a0bcd8"/><rect x="28.8" y="27.0" width="0.7" height="0.7" fill="#b0cbe3"/><rect x="22.1" y="10.8" width="0.7" height="0.7" fill="#a0bcd8"/><rect x="3.8" y="6.7" width="0.7" height="0.7" fill="#b0cbe3"/><rect x="3.4" y="15.3" width="0.9" height="0.9" fill="#a0bcd8"/><rect x="12.6" y="2.3" width="0.7" height="0.7" fill="#a0bcd8"/><rect x="17.3" y="10.7" width="0.7" height="0.7" fill="#a0bcd8"/><rect x="5.3" y="14.5" width="0.9" height="0.9" fill="#6a8fb5"/><rect x="20.3" y="4.8" width="0.5" height="0.5" fill="#7c9fc2"/><rect x="28.9" y="23.0" width="0.9" height="0.9" fill="#b0cbe3"/><rect x="7.5" y="17.8" width="0.7" height="0.7" fill="#b0cbe3"/><rect x="23.0" y="9.0" width="0.5" height="0.5" fill="#7c9fc2"/><rect x="24.6" y="18.0" width="0.5" height="0.5" fill="#6a8fb5"/><rect x="26.9" y="17.9" width="0.9" height="0.9" fill="#a0bcd8"/><rect x="16.8" y="0.9" width="0.5" height="0.5" fill="#6a8fb5"/><rect x="2.6" y="7.5" width="0.5" height="0.5" fill="#b0cbe3"/><rect x="5.2" y="27.0" width="0.5" height="0.5" fill="#b0cbe3"/><rect x="0.7" y="2.5" width="0.5" height="0.5" fill="#6a8fb5"/><rect x="4.5" y="10.1" width="0.7" height="0.7" fill="#7c9fc2"/><rect x="8.8" y="22.4" width="0.7" height="0.7" fill="#7c9fc2"/><rect x="1.6" y="2.5" width="0.7" height="0.7" fill="#b0cbe3"/><rect x="2.7" y="18.7" width="0.5" height="0.5" fill="#7c9fc2"/><rect x="23.8" y="21.9" width="0.9" height="0.9" fill="#7c9fc2"/><rect x="14.8" y="5.7" width="0.5" height="0.5" fill="#6a8fb5"/><rect x="25.2" y="12.7" width="0.9" height="0.9" fill="#7c9fc2"/><rect x="0.5" y="9.3" width="0.7" height="0.7" fill="#6a8fb5"/><rect x="2.8" y="17.6" width="0.9" height="0.9" fill="#b0cbe3"/><rect x="13.6" y="14.1" width="0.9" height="0.9" fill="#b0cbe3"/><rect x="2.8" y="19.9" width="0.5" height="0.5" fill="#a0bcd8"/><rect x="0.4" y="28.0" width="0.5" height="0.5" fill="#b0cbe3"/><rect x="25.2" y="13.7" width="0.9" height="0.9" fill="#7c9fc2"/><rect x="12.7" y="16.0" width="0.5" height="0.5" fill="#6a8fb5"/><rect x="6.9" y="0.7" width="0.5" height="0.5" fill="#7c9fc2"/><rect x="19.2" y="20.7" width="0.5" height="0.5" fill="#b0cbe3"/><rect x="6.1" y="9.3" width="0.5" height="0.5" fill="#7c9fc2"/><rect x="4.7" y="6.8" width="0.9" height="0.9" fill="#7c9fc2"/><rect x="21.5" y="28.8" width="0.7" height="0.7" fill="#7c9fc2"/><rect x="9.5" y="21.6" width="0.9" height="0.9" fill="#6a8fb5"/><rect x="9.5" y="8.8" width="0.9" height="0.9" fill="#7c9fc2"/><rect x="7.1" y="5.3" width="0.7" height="0.7" fill="#b0cbe3"/><rect x="0.9" y="9.6" width="0.9" height="0.9" fill="#7c9fc2"/><rect x="21.5" y="15.9" width="0.5" height="0.5" fill="#6a8fb5"/><rect x="19.8" y="18.7" width="0.7" height="0.7" fill="#a0bcd8"/><rect x="2.0" y="24.1" width="0.7" height="0.7" fill="#b0cbe3"/><rect x="9.5" y="14.3" width="0.9" height="0.9" fill="#a0bcd8"/><rect x="11.2" y="13.4" width="0.9" height="0.9" fill="#7c9fc2"/><rect x="1.5" y="23.1" width="0.9" height="0.9" fill="#6a8fb5"/><rect x="27.7" y="4.0" width="0.5" height="0.5" fill="#b0cbe3"/><rect x="14.0" y="18.6" width="0.9" height="0.9" fill="#7c9fc2"/><rect x="2.1" y="22.5" width="0.7" height="0.7" fill="#7c9fc2"/><rect x="15.6" y="4.3" width="0.9" height="0.9" fill="#6a8fb5"/><rect x="28.9" y="1.5" width="0.9" height="0.9" fill="#7c9fc2"/><rect x="4.1" y="3.2" width="0.7" height="0.7" fill="#6a8fb5"/><rect x="4.9" y="16.0" width="0.5" height="0.5" fill="#a0bcd8"/><rect x="7.2" y="11.6" width="0.9" height="0.9" fill="#a0bcd8"/><rect x="10.1" y="3.7" width="0.7" height="0.7" fill="#b0cbe3"/><rect x="29.2" y="3.5" width="0.9" height="0.9" fill="#7c9fc2"/><rect x="28.2" y="21.6" width="0.7" height="0.7" fill="#a0bcd8"/><rect x="6.8" y="5.5" width="0.7" height="0.7" fill="#7c9fc2"/><rect x="11.8" y="6.1" width="0.9" height="0.9" fill="#b0cbe3"/><rect x="5.8" y="28.7" width="0.9" height="0.9" fill="#6a8fb5"/><rect x="10.2" y="7.4" width="0.9" height="0.9" fill="#7c9fc2"/><rect x="14.1" y="29.7" width="0.9" height="0.9" fill="#b0cbe3"/><rect x="9.6" y="5.2" width="0.9" height="0.9" fill="#7c9fc2"/><rect x="5.6" y="12.6" width="0.5" height="0.5" fill="#6a8fb5"/><rect x="17.2" y="0.3" width="0.9" height="0.9" fill="#7c9fc2"/><rect x="1.2" y="1.1" width="0.5" height="0.5" fill="#7c9fc2"/><rect x="25.5" y="24.6" width="0.7" height="0.7" fill="#7c9fc2"/><rect x="9.0" y="18.5" width="0.7" height="0.7" fill="#a0bcd8"/><rect x="8.5" y="28.3" width="0.9" height="0.9" fill="#6a8fb5"/><rect x="12.3" y="19.1" width="0.9" height="0.9" fill="#b0cbe3"/><rect x="24.1" y="29.7" width="0.5" height="0.5" fill="#b0cbe3"/><rect x="24.4" y="7.6" width="0.7" height="0.7" fill="#7c9fc2"/><rect x="13.1" y="9.2" width="0.9" height="0.9" fill="#b0cbe3"/><rect x="21.4" y="20.1" width="0.7" height="0.7" fill="#6a8fb5"/><rect x="26.9" y="5.2" width="0.5" height="0.5" fill="#7c9fc2"/><rect x="25.7" y="28.6" width="0.9" height="0.9" fill="#6a8fb5"/><rect x="29.4" y="28.4" width="0.7" height="0.7" fill="#a0bcd8"/><rect x="23.5" y="26.1" width="0.9" height="0.9" fill="#b0cbe3"/><rect x="10.2" y="7.5" width="0.5" height="0.5" fill="#6a8fb5"/><rect x="9.8" y="0.8" width="0.5" height="0.5" fill="#6a8fb5"/><rect x="11.1" y="18.5" width="0.9" height="0.9" fill="#a0bcd8"/><rect x="1.6" y="25.8" width="0.7" height="0.7" fill="#a0bcd8"/><rect x="24.1" y="28.6" width="0.9" height="0.9" fill="#7c9fc2"/><rect x="19.0" y="26.8" width="0.7" height="0.7" fill="#a0bcd8"/><rect x="27.0" y="22.0" width="0.9" height="0.9" fill="#7c9fc2"/><rect x="26.2" y="17.2" width="0.9" height="0.9" fill="#6a8fb5"/><rect x="17.6" y="24.9" width="0.7" height="0.7" fill="#6a8fb5"/><rect x="13.4" y="0.4" width="0.5" height="0.5" fill="#b0cbe3"/><rect x="6.3" y="16.3" width="0.9" height="0.9" fill="#6a8fb5"/><rect x="27.4" y="1.0" width="0.5" height="0.5" fill="#a0bcd8"/><rect x="21.5" y="12.9" width="0.5" height="0.5" fill="#6a8fb5"/><rect x="15.7" y="24.6" width="0.5" height="0.5" fill="#7c9fc2"/><rect x="6.7" y="22.3" width="0.5" height="0.5" fill="#6a8fb5"/><rect x="11.0" y="28.3" width="0.5" height="0.5" fill="#a0bcd8"/><rect x="11.4" y="21.3" width="0.5" height="0.5" fill="#a0bcd8"/><rect x="9.8" y="29.7" width="0.7" height="0.7" fill="#b0cbe3"/><rect x="16.4" y="15.0" width="0.9" height="0.9" fill="#b0cbe3"/><rect x="28.7" y="30.0" width="0.5" height="0.5" fill="#b0cbe3"/><rect x="0.5" y="19.5" width="0.9" height="0.9" fill="#6a8fb5"/><rect x="10.9" y="27.7" width="0.9" height="0.9" fill="#b0cbe3"/><rect x="0.7" y="15.1" width="0.9" height="0.9" fill="#b0cbe3"/><rect x="13.9" y="4.6" width="0.5" height="0.5" fill="#b0cbe3"/><rect x="4.6" y="13.1" width="0.7" height="0.7" fill="#6a8fb5"/><rect x="4.1" y="20.6" width="0.5" height="0.5" fill="#7c9fc2"/><rect x="12.6" y="15.4" width="0.5" height="0.5" fill="#a0bcd8"/><rect x="2.8" y="0.2" width="0.9" height="0.9" fill="#7c9fc2"/><rect x="5.0" y="23.5" width="0.5" height="0.5" fill="#7c9fc2"/><rect x="15.5" y="5.3" width="0.5" height="0.5" fill="#b0cbe3"/><rect x="29.3" y="21.6" width="0.9" height="0.9" fill="#6a8fb5"/><rect x="13.9" y="17.8" width="0.7" height="0.7" fill="#b0cbe3"/><rect x="25.1" y="12.7" width="0.7" height="0.7" fill="#6a8fb5"/><rect x="28.3" y="13.3" width="0.5" height="0.5" fill="#6a8fb5"/><rect x="26.9" y="16.8" width="0.5" height="0.5" fill="#a0bcd8"/><rect x="9.6" y="5.1" width="0.9" height="0.9" fill="#b0cbe3"/><rect x="10.1" y="23.0" width="0.5" height="0.5" fill="#b0cbe3"/><rect x="6.8" y="26.1" width="0.9" height="0.9" fill="#7c9fc2"/><rect x="13.1" y="9.3" width="0.7" height="0.7" fill="#b0cbe3"/><rect x="2.5" y="5.8" width="0.5" height="0.5" fill="#7c9fc2"/><rect x="15.1" y="5.5" width="0.7" height="0.7" fill="#a0bcd8"/><rect x="23.1" y="17.8" width="0.7" height="0.7" fill="#a0bcd8"/><rect x="14.1" y="5.9" width="0.9" height="0.9" fill="#b0cbe3"/><rect x="5.1" y="2.2" width="0.5" height="0.5" fill="#a0bcd8"/><rect x="12.1" y="10.6" width="0.7" height="0.7" fill="#a0bcd8"/><rect x="10.6" y="20.7" width="0.9" height="0.9" fill="#a0bcd8"/><rect x="4.6" y="25.9" width="0.5" height="0.5" fill="#6a8fb5"/><rect x="25.5" y="21.9" width="0.9" height="0.9" fill="#7c9fc2"/><rect x="18.9" y="27.6" width="0.7" height="0.7" fill="#a0bcd8"/><rect x="18.6" y="4.7" width="0.9" height="0.9" fill="#6a8fb5"/><rect x="4.4" y="11.0" width="0.7" height="0.7" fill="#a0bcd8"/><rect x="17.7" y="20.3" width="0.5" height="0.5" fill="#7c9fc2"/><rect x="16.5" y="12.1" width="0.7" height="0.7" fill="#b0cbe3"/><rect x="3.5" y="26.9" width="0.9" height="0.9" fill="#6a8fb5"/><rect x="9.7" y="14.4" width="0.7" height="0.7" fill="#a0bcd8"/><rect x="10.9" y="26.9" width="0.9" height="0.9" fill="#7c9fc2"/><rect x="16.0" y="27.9" width="0.5" height="0.5" fill="#a0bcd8"/><rect x="10.0" y="11.6" width="0.5" height="0.5" fill="#7c9fc2"/><rect x="11.1" y="11.6" width="0.9" height="0.9" fill="#7c9fc2"/><rect x="16.2" y="8.3" width="0.7" height="0.7" fill="#7c9fc2"/><rect x="24.6" y="4.8" width="0.5" height="0.5" fill="#a0bcd8"/><rect x="2.3" y="6.3" width="0.5" height="0.5" fill="#b0cbe3"/><rect x="9.3" y="6.6" width="0.7" height="0.7" fill="#a0bcd8"/><rect x="3.7" y="29.1" width="0.5" height="0.5" fill="#6a8fb5"/><rect x="16.5" y="27.7" width="0.5" height="0.5" fill="#6a8fb5"/><rect x="13.0" y="5.8" width="0.9" height="0.9" fill="#a0bcd8"/><rect x="11.6" y="2.8" width="0.9" height="0.9" fill="#b0cbe3"/><rect x="3.8" y="9.1" width="0.5" height="0.5" fill="#6a8fb5"/><rect x="4.8" y="1.2" width="0.9" height="0.9" fill="#7c9fc2"/><rect x="20.8" y="5.1" width="0.5" height="0.5" fill="#a0bcd8"/><rect x="3.2" y="5.9" width="0.9" height="0.9" fill="#7c9fc2"/><rect x="28.2" y="5.9" width="0.7" height="0.7" fill="#6a8fb5"/><rect x="9.8" y="12.3" width="0.5" height="0.5" fill="#a0bcd8"/><rect x="14.5" y="0.7" width="0.5" height="0.5" fill="#b0cbe3"/><rect x="5.4" y="4.6" width="0.9" height="0.9" fill="#7c9fc2"/><rect x="22.1" y="1.8" width="0.7" height="0.7" fill="#6a8fb5"/><rect x="16.4" y="26.5" width="0.7" height="0.7" fill="#6a8fb5"/><rect x="13.2" y="0.7" width="0.9" height="0.9" fill="#7c9fc2"/><rect x="11.9" y="28.3" width="0.9" height="0.9" fill="#6a8fb5"/><rect x="15.5" y="14.9" width="0.5" height="0.5" fill="#a0bcd8"/><rect x="20.7" y="0.1" width="0.7" height="0.7" fill="#6a8fb5"/><rect x="12.4" y="20.1" width="0.9" height="0.9" fill="#a0bcd8"/><rect x="19.9" y="10.0" width="0.9" height="0.9" fill="#a0bcd8"/><rect x="27.9" y="18.5" width="0.7" height="0.7" fill="#7c9fc2"/><rect x="5.7" y="29.8" width="0.9" height="0.9" fill="#b0cbe3"/><rect x="23.6" y="24.6" width="0.7" height="0.7" fill="#7c9fc2"/><rect x="19.3" y="16.8" width="0.5" height="0.5" fill="#7c9fc2"/><rect x="17.2" y="16.4" width="0.5" height="0.5" fill="#7c9fc2"/><rect x="14.8" y="24.9" width="0.5" height="0.5" fill="#6a8fb5"/><rect x="12.8" y="2.5" width="0.7" height="0.7" fill="#a0bcd8"/><rect x="17.6" y="12.8" width="0.5" height="0.5" fill="#6a8fb5"/><rect x="17.7" y="4.0" width="0.7" height="0.7" fill="#a0bcd8"/><rect x="26.3" y="18.2" width="0.7" height="0.7" fill="#a0bcd8"/><rect x="26.5" y="24.3" width="0.9" height="0.9" fill="#6a8fb5"/><rect x="13.5" y="11.1" width="0.7" height="0.7" fill="#6a8fb5"/><rect x="25.0" y="9.0" width="0.9" height="0.9" fill="#6a8fb5"/><rect x="7.7" y="23.5" width="0.9" height="0.9" fill="#b0cbe3"/><rect x="28.3" y="29.9" width="0.9" height="0.9" fill="#a0bcd8"/><rect x="20.8" y="19.4" width="0.7" height="0.7" fill="#7c9fc2"/><rect x="19.3" y="9.5" width="0.5" height="0.5" fill="#a0bcd8"/><rect x="1.4" y="25.1" width="0.5" height="0.5" fill="#7c9fc2"/><rect x="18.1" y="25.9" width="0.7" height="0.7" fill="#b0cbe3"/><rect x="19.1" y="11.3" width="0.7" height="0.7" fill="#b0cbe3"/><rect x="24.4" y="1.0" width="0.5" height="0.5" fill="#a0bcd8"/><rect x="2.6" y="25.5" width="0.5" height="0.5" fill="#6a8fb5"/><rect x="13.9" y="14.1" width="0.9" height="0.9" fill="#6a8fb5"/><rect x="8.7" y="25.2" width="0.5" height="0.5" fill="#b0cbe3"/><rect x="19.4" y="22.7" width="0.9" height="0.9" fill="#b0cbe3"/><rect x="7.8" y="4.9" width="0.7" height="0.7" fill="#b0cbe3"/><rect x="25.7" y="6.7" width="0.5" height="0.5" fill="#7c9fc2"/><rect x="6.6" y="27.2" width="0.5" height="0.5" fill="#7c9fc2"/><rect x="18.9" y="16.0" width="0.5" height="0.5" fill="#a0bcd8"/><rect x="3.0" y="27.4" width="0.9" height="0.9" fill="#7c9fc2"/><rect x="1.8" y="11.5" width="0.7" height="0.7" fill="#a0bcd8"/><rect x="24.7" y="28.9" width="0.5" height="0.5" fill="#7c9fc2"/><rect x="15.6" y="3.6" width="0.7" height="0.7" fill="#7c9fc2"/><rect x="26.7" y="27.4" width="0.7" height="0.7" fill="#a0bcd8"/><rect x="14.8" y="8.0" width="0.5" height="0.5" fill="#7c9fc2"/><rect x="16.6" y="22.9" width="0.5" height="0.5" fill="#7c9fc2"/><rect x="10.3" y="2.9" width="0.5" height="0.5" fill="#a0bcd8"/><rect x="29.4" y="4.2" width="0.7" height="0.7" fill="#7c9fc2"/><rect x="11.6" y="16.4" width="0.5" height="0.5" fill="#7c9fc2"/><rect x="9.5" y="13.7" width="0.7" height="0.7" fill="#7c9fc2"/><rect x="18.9" y="16.9" width="0.7" height="0.7" fill="#7c9fc2"/><rect x="28.5" y="19.0" width="0.7" height="0.7" fill="#b0cbe3"/><rect x="5.7" y="5.7" width="0.9" height="0.9" fill="#7c9fc2"/><rect x="7.3" y="29.2" width="0.7" height="0.7" fill="#6a8fb5"/><rect x="0.3" y="16.6" width="0.9" height="0.9" fill="#b0cbe3"/><rect x="15.2" y="3.5" width="0.9" height="0.9" fill="#b0cbe3"/><rect x="3.3" y="8.6" width="0.5" height="0.5" fill="#6a8fb5"/><rect x="20.3" y="21.4" width="0.7" height="0.7" fill="#6a8fb5"/><rect x="1.5" y="12.8" width="0.7" height="0.7" fill="#7c9fc2"/><rect x="26.9" y="20.8" width="0.7" height="0.7" fill="#a0bcd8"/><rect x="27.1" y="17.7" width="0.5" height="0.5" fill="#b0cbe3"/><rect x="17.2" y="29.6" width="0.5" height="0.5" fill="#b0cbe3"/><rect x="6.3" y="3.6" width="0.9" height="0.9" fill="#7c9fc2"/><rect x="29.0" y="12.2" width="0.5" height="0.5" fill="#6a8fb5"/><rect x="17.9" y="20.9" width="0.5" height="0.5" fill="#a0bcd8"/><rect x="24.9" y="26.8" width="0.7" height="0.7" fill="#b0cbe3"/><rect x="10.9" y="19.9" width="0.5" height="0.5" fill="#6a8fb5"/><rect x="29.8" y="18.7" width="0.5" height="0.5" fill="#a0bcd8"/><rect x="11.2" y="11.0" width="0.7" height="0.7" fill="#b0cbe3"/><rect x="27.6" y="11.1" width="0.5" height="0.5" fill="#b0cbe3"/><rect x="4.7" y="4.5" width="0.5" height="0.5" fill="#6a8fb5"/><rect x="9.3" y="17.0" width="0.9" height="0.9" fill="#6a8fb5"/><rect x="14.9" y="13.9" width="0.9" height="0.9" fill="#6a8fb5"/><rect x="1.7" y="12.7" width="0.5" height="0.5" fill="#b0cbe3"/><rect x="7.3" y="24.7" width="0.5" height="0.5" fill="#b0cbe3"/><rect x="25.0" y="17.7" width="0.7" height="0.7" fill="#a0bcd8"/><rect x="14.3" y="1.2" width="0.7" height="0.7" fill="#6a8fb5"/><rect x="29.6" y="7.2" width="0.9" height="0.9" fill="#6a8fb5"/><rect x="27.8" y="5.9" width="0.5" height="0.5" fill="#7c9fc2"/><rect x="23.2" y="22.6" width="0.9" height="0.9" fill="#7c9fc2"/><rect x="2.4" y="22.6" width="0.9" height="0.9" fill="#6a8fb5"/></pattern>
</defs>
<rect x="155.4" y="354" width="4.4" height="132.4" fill="url(#gLeg)" stroke="#7a7a7a" stroke-width="0.8"/>
<rect x="372.9" y="354" width="4.3" height="131.4" fill="url(#gLeg)" stroke="#7a7a7a" stroke-width="0.8"/>
<path d="M163.7,353.5 L369,353.5 L329.2,408.2 L304,408.2 L266.2,355.9 L228.9,408.4 L204.4,408.4 Z" fill="url(#gBox)"/>
<path d="M183.3,379.7 L247.8,379.7 L228.9,408.4 L204.4,408.4 Z" fill="url(#dust1)"/>
<path d="M285,379.8 L347.5,379.8 L329.2,408.2 L304,408.2 Z" fill="url(#dust2)"/>
<path d="M163.7,354 L204.4,408.4 M228.9,408.4 L266.2,355.9 L304,408.2 M329.2,408.2 L369,354" fill="none" stroke="#444" stroke-width="0.9"/>
<rect x="159.8" y="408.2" width="213.1" height="4.3" fill="url(#gBar)" stroke="#808080" stroke-width="0.7"/>
<line x1="159.8" y1="408.4" x2="372.9" y2="408.4" stroke="#555" stroke-width="0.8"/>
<path d="M206.9,412.5 L225.6,412.5 L222.7,418.2 L210.5,418.2 Z" fill="#4f8cca"/>
<rect x="211" y="417.6" width="11.5" height="2.6" fill="#cfe3f7"/>
<line x1="207.3" y1="420.6" x2="226" y2="420.6" stroke="#4a90d8" stroke-width="1"/>
<line x1="207.3" y1="420.6" x2="216" y2="420.6" stroke="#555" stroke-width="1"/>
<path d="M305.5,412.4 L327.5,412.4 L323.5,418.2 L309.5,418.2 Z" fill="#7fa7cc"/>
<rect x="310" y="417.6" width="13" height="2.6" fill="#d5e3ef"/>
<line x1="308.2" y1="420.4" x2="325" y2="420.4" stroke="#666" stroke-width="1"/>
<rect x="155.6" y="204.5" width="221" height="149.5" fill="url(#gBox)" stroke="url(#gEdge)" stroke-width="1.1"/>
<rect x="155.6" y="207.8" width="221" height="1" fill="url(#gEdge)"/>
<line x1="155.6" y1="353.9" x2="376.6" y2="353.9" stroke="#4581ba" stroke-width="1.5"/>
<path d="M158.6,251 L158.6,347.5 Q158.6,350 156,350.2" fill="none" stroke="#1e4678" stroke-opacity="0.6" stroke-width="0.8"/>
<path d="M374.4,251 L374.4,347.5 Q374.4,350 376.4,350.2" fill="none" stroke="#1e4678" stroke-opacity="0.6" stroke-width="0.8"/>
<path d="M182,226.2 L376,226.2 L376,230.4 L186,230.4 L186,245.6 Q186,246.6 184,246.6 Q182,246.6 182,245.6 Z" fill="#a8d4fa" fill-opacity="0.3" stroke="#1e4678" stroke-opacity="0.6" stroke-width="0.9"/>
<rect x="234.4" y="226.2" width="4.8" height="19.6" fill="#a8d4fa" fill-opacity="0.3" stroke="#1e4678" stroke-opacity="0.6" stroke-width="0.9"/>
<rect x="292.5" y="226.2" width="4.8" height="19.6" fill="#a8d4fa" fill-opacity="0.3" stroke="#1e4678" stroke-opacity="0.6" stroke-width="0.9"/>
<rect x="345.4" y="226.2" width="4.8" height="19.6" fill="#a8d4fa" fill-opacity="0.3" stroke="#1e4678" stroke-opacity="0.6" stroke-width="0.9"/>
<line x1="371.6" y1="226.2" x2="371.6" y2="232" stroke="#1e4678" stroke-opacity="0.6" stroke-width="0.8"/>
<circle cx="365.1" cy="242.5" r="6.5" fill="none" stroke="#1e4678" stroke-opacity="0.6" stroke-width="0.8"/>
<line x1="365.1" y1="224" x2="365.1" y2="250.5" stroke="#1e4678" stroke-opacity="0.6" stroke-width="0.8"/>
<line x1="357.4" y1="243.5" x2="373.9" y2="243.5" stroke="#1e4678" stroke-opacity="0.6" stroke-width="0.8"/>
<path d="M359.5,246 L359.5,251 M370.7,246 L370.7,251" stroke="#1e4678" stroke-opacity="0.6" stroke-width="0.8"/>
<path d="M310.80,216.20 L283.03,218.50 L283.01,217.10 L271.11,216.70 L271.09,215.70 L282.99,216.10 L282.97,214.70Z" fill="#4a90e4"/>
<line x1="155.6" y1="251.4" x2="376.6" y2="251.4" stroke="#1b416e" stroke-opacity="0.7" stroke-width="1.1"/>
<clipPath id="filtclip"><rect x="155" y="251.4" width="222" height="82"/></clipPath>
<path d="M164.20,240.40 L171.20,245.80 M171.20,240.40 L164.20,245.80 M164.20,245.80 L171.20,251.20 M171.20,245.80 L164.20,251.20 M164.20,251.20 L171.20,256.60 M171.20,251.20 L164.20,256.60 M164.20,256.60 L171.20,262.00 M171.20,256.60 L164.20,262.00 M164.20,262.00 L171.20,267.40 M171.20,262.00 L164.20,267.40 M164.20,267.40 L171.20,272.80 M171.20,267.40 L164.20,272.80 M164.20,272.80 L171.20,278.20 M171.20,272.80 L164.20,278.20 M164.20,278.20 L171.20,283.60 M171.20,278.20 L164.20,283.60 M164.20,283.60 L171.20,289.00 M171.20,283.60 L164.20,289.00 M164.20,289.00 L171.20,294.40 M171.20,289.00 L164.20,294.40 M164.20,294.40 L171.20,299.80 M171.20,294.40 L164.20,299.80 M164.20,299.80 L171.20,305.20 M171.20,299.80 L164.20,305.20 M164.20,305.20 L171.20,310.60 M171.20,305.20 L164.20,310.60 M164.20,310.60 L171.20,316.00 M171.20,310.60 L164.20,316.00 M164.20,316.00 L171.20,321.40 M171.20,316.00 L164.20,321.40 M164.20,321.40 L171.20,326.80 M171.20,321.40 L164.20,326.80 M164.20,326.80 L171.20,332.20 M171.20,326.80 L164.20,332.20 M164.20,332.20 L171.20,337.60 M171.20,332.20 L164.20,337.60" stroke="#1b416e" stroke-opacity="0.68" stroke-width="0.9" fill="none" clip-path="url(#filtclip)"/>
<rect x="164.2" y="251.4" width="7.0" height="82" fill="none" stroke="#1b416e" stroke-opacity="0.68" stroke-width="0.85"/>
<path d="M198.40,240.40 L205.70,245.80 M205.70,240.40 L198.40,245.80 M198.40,245.80 L205.70,251.20 M205.70,245.80 L198.40,251.20 M198.40,251.20 L205.70,256.60 M205.70,251.20 L198.40,256.60 M198.40,256.60 L205.70,262.00 M205.70,256.60 L198.40,262.00 M198.40,262.00 L205.70,267.40 M205.70,262.00 L198.40,267.40 M198.40,267.40 L205.70,272.80 M205.70,267.40 L198.40,272.80 M198.40,272.80 L205.70,278.20 M205.70,272.80 L198.40,278.20 M198.40,278.20 L205.70,283.60 M205.70,278.20 L198.40,283.60 M198.40,283.60 L205.70,289.00 M205.70,283.60 L198.40,289.00 M198.40,289.00 L205.70,294.40 M205.70,289.00 L198.40,294.40 M198.40,294.40 L205.70,299.80 M205.70,294.40 L198.40,299.80 M198.40,299.80 L205.70,305.20 M205.70,299.80 L198.40,305.20 M198.40,305.20 L205.70,310.60 M205.70,305.20 L198.40,310.60 M198.40,310.60 L205.70,316.00 M205.70,310.60 L198.40,316.00 M198.40,316.00 L205.70,321.40 M205.70,316.00 L198.40,321.40 M198.40,321.40 L205.70,326.80 M205.70,321.40 L198.40,326.80 M198.40,326.80 L205.70,332.20 M205.70,326.80 L198.40,332.20 M198.40,332.20 L205.70,337.60 M205.70,332.20 L198.40,337.60" stroke="#1b416e" stroke-opacity="0.68" stroke-width="0.9" fill="none" clip-path="url(#filtclip)"/>
<rect x="198.4" y="251.4" width="7.3" height="82" fill="none" stroke="#1b416e" stroke-opacity="0.68" stroke-width="0.85"/>
<path d="M216.50,240.40 L223.60,245.80 M223.60,240.40 L216.50,245.80 M216.50,245.80 L223.60,251.20 M223.60,245.80 L216.50,251.20 M216.50,251.20 L223.60,256.60 M223.60,251.20 L216.50,256.60 M216.50,256.60 L223.60,262.00 M223.60,256.60 L216.50,262.00 M216.50,262.00 L223.60,267.40 M223.60,262.00 L216.50,267.40 M216.50,267.40 L223.60,272.80 M223.60,267.40 L216.50,272.80 M216.50,272.80 L223.60,278.20 M223.60,272.80 L216.50,278.20 M216.50,278.20 L223.60,283.60 M223.60,278.20 L216.50,283.60 M216.50,283.60 L223.60,289.00 M223.60,283.60 L216.50,289.00 M216.50,289.00 L223.60,294.40 M223.60,289.00 L216.50,294.40 M216.50,294.40 L223.60,299.80 M223.60,294.40 L216.50,299.80 M216.50,299.80 L223.60,305.20 M223.60,299.80 L216.50,305.20 M216.50,305.20 L223.60,310.60 M223.60,305.20 L216.50,310.60 M216.50,310.60 L223.60,316.00 M223.60,310.60 L216.50,316.00 M216.50,316.00 L223.60,321.40 M223.60,316.00 L216.50,321.40 M216.50,321.40 L223.60,326.80 M223.60,321.40 L216.50,326.80 M216.50,326.80 L223.60,332.20 M223.60,326.80 L216.50,332.20 M216.50,332.20 L223.60,337.60 M223.60,332.20 L216.50,337.60" stroke="#1b416e" stroke-opacity="0.68" stroke-width="0.9" fill="none" clip-path="url(#filtclip)"/>
<rect x="216.5" y="251.4" width="7.1" height="82" fill="none" stroke="#1b416e" stroke-opacity="0.68" stroke-width="0.85"/>
<path d="M251.20,240.40 L258.40,245.80 M258.40,240.40 L251.20,245.80 M251.20,245.80 L258.40,251.20 M258.40,245.80 L251.20,251.20 M251.20,251.20 L258.40,256.60 M258.40,251.20 L251.20,256.60 M251.20,256.60 L258.40,262.00 M258.40,256.60 L251.20,262.00 M251.20,262.00 L258.40,267.40 M258.40,262.00 L251.20,267.40 M251.20,267.40 L258.40,272.80 M258.40,267.40 L251.20,272.80 M251.20,272.80 L258.40,278.20 M258.40,272.80 L251.20,278.20 M251.20,278.20 L258.40,283.60 M258.40,278.20 L251.20,283.60 M251.20,283.60 L258.40,289.00 M258.40,283.60 L251.20,289.00 M251.20,289.00 L258.40,294.40 M258.40,289.00 L251.20,294.40 M251.20,294.40 L258.40,299.80 M258.40,294.40 L251.20,299.80 M251.20,299.80 L258.40,305.20 M258.40,299.80 L251.20,305.20 M251.20,305.20 L258.40,310.60 M258.40,305.20 L251.20,310.60 M251.20,310.60 L258.40,316.00 M258.40,310.60 L251.20,316.00 M251.20,316.00 L258.40,321.40 M258.40,316.00 L251.20,321.40 M251.20,321.40 L258.40,326.80 M258.40,321.40 L251.20,326.80 M251.20,326.80 L258.40,332.20 M258.40,326.80 L251.20,332.20 M251.20,332.20 L258.40,337.60 M258.40,332.20 L251.20,337.60" stroke="#1b416e" stroke-opacity="0.68" stroke-width="0.9" fill="none" clip-path="url(#filtclip)"/>
<rect x="251.2" y="251.4" width="7.2" height="82" fill="none" stroke="#1b416e" stroke-opacity="0.68" stroke-width="0.85"/>
<path d="M274.60,240.40 L281.60,245.80 M281.60,240.40 L274.60,245.80 M274.60,245.80 L281.60,251.20 M281.60,245.80 L274.60,251.20 M274.60,251.20 L281.60,256.60 M281.60,251.20 L274.60,256.60 M274.60,256.60 L281.60,262.00 M281.60,256.60 L274.60,262.00 M274.60,262.00 L281.60,267.40 M281.60,262.00 L274.60,267.40 M274.60,267.40 L281.60,272.80 M281.60,267.40 L274.60,272.80 M274.60,272.80 L281.60,278.20 M281.60,272.80 L274.60,278.20 M274.60,278.20 L281.60,283.60 M281.60,278.20 L274.60,283.60 M274.60,283.60 L281.60,289.00 M281.60,283.60 L274.60,289.00 M274.60,289.00 L281.60,294.40 M281.60,289.00 L274.60,294.40 M274.60,294.40 L281.60,299.80 M281.60,294.40 L274.60,299.80 M274.60,299.80 L281.60,305.20 M281.60,299.80 L274.60,305.20 M274.60,305.20 L281.60,310.60 M281.60,305.20 L274.60,310.60 M274.60,310.60 L281.60,316.00 M281.60,310.60 L274.60,316.00 M274.60,316.00 L281.60,321.40 M281.60,316.00 L274.60,321.40 M274.60,321.40 L281.60,326.80 M281.60,321.40 L274.60,326.80 M274.60,326.80 L281.60,332.20 M281.60,326.80 L274.60,332.20 M274.60,332.20 L281.60,337.60 M281.60,332.20 L274.60,337.60" stroke="#1b416e" stroke-opacity="0.68" stroke-width="0.9" fill="none" clip-path="url(#filtclip)"/>
<rect x="274.6" y="251.4" width="7.0" height="82" fill="none" stroke="#1b416e" stroke-opacity="0.68" stroke-width="0.85"/>
<path d="M309.40,240.40 L316.60,245.80 M316.60,240.40 L309.40,245.80 M309.40,245.80 L316.60,251.20 M316.60,245.80 L309.40,251.20 M309.40,251.20 L316.60,256.60 M316.60,251.20 L309.40,256.60 M309.40,256.60 L316.60,262.00 M316.60,256.60 L309.40,262.00 M309.40,262.00 L316.60,267.40 M316.60,262.00 L309.40,267.40 M309.40,267.40 L316.60,272.80 M316.60,267.40 L309.40,272.80 M309.40,272.80 L316.60,278.20 M316.60,272.80 L309.40,278.20 M309.40,278.20 L316.60,283.60 M316.60,278.20 L309.40,283.60 M309.40,283.60 L316.60,289.00 M316.60,283.60 L309.40,289.00 M309.40,289.00 L316.60,294.40 M316.60,289.00 L309.40,294.40 M309.40,294.40 L316.60,299.80 M316.60,294.40 L309.40,299.80 M309.40,299.80 L316.60,305.20 M316.60,299.80 L309.40,305.20 M309.40,305.20 L316.60,310.60 M316.60,305.20 L309.40,310.60 M309.40,310.60 L316.60,316.00 M316.60,310.60 L309.40,316.00 M309.40,316.00 L316.60,321.40 M316.60,316.00 L309.40,321.40 M309.40,321.40 L316.60,326.80 M316.60,321.40 L309.40,326.80 M309.40,326.80 L316.60,332.20 M316.60,326.80 L309.40,332.20 M309.40,332.20 L316.60,337.60 M316.60,332.20 L309.40,337.60" stroke="#1b416e" stroke-opacity="0.68" stroke-width="0.9" fill="none" clip-path="url(#filtclip)"/>
<rect x="309.4" y="251.4" width="7.2" height="82" fill="none" stroke="#1b416e" stroke-opacity="0.68" stroke-width="0.85"/>
<path d="M327.00,240.40 L333.90,245.80 M333.90,240.40 L327.00,245.80 M327.00,245.80 L333.90,251.20 M333.90,245.80 L327.00,251.20 M327.00,251.20 L333.90,256.60 M333.90,251.20 L327.00,256.60 M327.00,256.60 L333.90,262.00 M333.90,256.60 L327.00,262.00 M327.00,262.00 L333.90,267.40 M333.90,262.00 L327.00,267.40 M327.00,267.40 L333.90,272.80 M333.90,267.40 L327.00,272.80 M327.00,272.80 L333.90,278.20 M333.90,272.80 L327.00,278.20 M327.00,278.20 L333.90,283.60 M333.90,278.20 L327.00,283.60 M327.00,283.60 L333.90,289.00 M333.90,283.60 L327.00,289.00 M327.00,289.00 L333.90,294.40 M333.90,289.00 L327.00,294.40 M327.00,294.40 L333.90,299.80 M333.90,294.40 L327.00,299.80 M327.00,299.80 L333.90,305.20 M333.90,299.80 L327.00,305.20 M327.00,305.20 L333.90,310.60 M333.90,305.20 L327.00,310.60 M327.00,310.60 L333.90,316.00 M333.90,310.60 L327.00,316.00 M327.00,316.00 L333.90,321.40 M333.90,316.00 L327.00,321.40 M327.00,321.40 L333.90,326.80 M333.90,321.40 L327.00,326.80 M327.00,326.80 L333.90,332.20 M333.90,326.80 L327.00,332.20 M327.00,332.20 L333.90,337.60 M333.90,332.20 L327.00,337.60" stroke="#1b416e" stroke-opacity="0.68" stroke-width="0.9" fill="none" clip-path="url(#filtclip)"/>
<rect x="327.0" y="251.4" width="6.9" height="82" fill="none" stroke="#1b416e" stroke-opacity="0.68" stroke-width="0.85"/>
<path d="M361.60,240.40 L368.80,245.80 M368.80,240.40 L361.60,245.80 M361.60,245.80 L368.80,251.20 M368.80,245.80 L361.60,251.20 M361.60,251.20 L368.80,256.60 M368.80,251.20 L361.60,256.60 M361.60,256.60 L368.80,262.00 M368.80,256.60 L361.60,262.00 M361.60,262.00 L368.80,267.40 M368.80,262.00 L361.60,267.40 M361.60,267.40 L368.80,272.80 M368.80,267.40 L361.60,272.80 M361.60,272.80 L368.80,278.20 M368.80,272.80 L361.60,278.20 M361.60,278.20 L368.80,283.60 M368.80,278.20 L361.60,283.60 M361.60,283.60 L368.80,289.00 M368.80,283.60 L361.60,289.00 M361.60,289.00 L368.80,294.40 M368.80,289.00 L361.60,294.40 M361.60,294.40 L368.80,299.80 M368.80,294.40 L361.60,299.80 M361.60,299.80 L368.80,305.20 M368.80,299.80 L361.60,305.20 M361.60,305.20 L368.80,310.60 M368.80,305.20 L361.60,310.60 M361.60,310.60 L368.80,316.00 M368.80,310.60 L361.60,316.00 M361.60,316.00 L368.80,321.40 M368.80,316.00 L361.60,321.40 M361.60,321.40 L368.80,326.80 M368.80,321.40 L361.60,326.80 M361.60,326.80 L368.80,332.20 M368.80,326.80 L361.60,332.20 M361.60,332.20 L368.80,337.60 M368.80,332.20 L361.60,337.60" stroke="#1b416e" stroke-opacity="0.68" stroke-width="0.9" fill="none" clip-path="url(#filtclip)"/>
<rect x="361.6" y="251.4" width="7.2" height="82" fill="none" stroke="#1b416e" stroke-opacity="0.68" stroke-width="0.85"/>
<line x1="161.3" y1="333.4" x2="209.5" y2="333.4" stroke="#1b416e" stroke-opacity="0.68" stroke-width="1.2"/>
<line x1="213.9" y1="333.4" x2="261.5" y2="333.4" stroke="#1b416e" stroke-opacity="0.68" stroke-width="1.2"/>
<line x1="271.5" y1="333.4" x2="320" y2="333.4" stroke="#1b416e" stroke-opacity="0.68" stroke-width="1.2"/>
<line x1="324" y1="333.4" x2="372.8" y2="333.4" stroke="#1b416e" stroke-opacity="0.68" stroke-width="1.2"/>
<path d="M185.80,275.60 L187.65,295.30 L186.27,295.30 L186.27,303.60 L185.32,303.60 L185.32,295.30 L183.95,295.30Z" fill="#3a8cee" fill-opacity="0.9"/>
<path d="M237.80,275.60 L239.65,295.30 L238.27,295.30 L238.27,303.60 L237.32,303.60 L237.32,295.30 L235.95,295.30Z" fill="#3a8cee" fill-opacity="0.9"/>
<path d="M295.00,275.60 L296.85,295.30 L295.48,295.30 L295.48,303.60 L294.52,303.60 L294.52,295.30 L293.15,295.30Z" fill="#3a8cee" fill-opacity="0.9"/>
<path d="M347.80,275.60 L349.65,295.30 L348.28,295.30 L348.28,303.60 L347.32,303.60 L347.32,295.30 L345.95,295.30Z" fill="#3a8cee" fill-opacity="0.9"/>
<path d="M164.60,260.30 L162.79,263.26 L162.17,262.12 L158.51,264.10 L158.09,263.30 L161.75,261.33 L161.13,260.18Z" fill="#2d5d8c" />
<path d="M164.60,274.80 L162.79,277.76 L162.17,276.62 L158.51,278.60 L158.09,277.80 L161.75,275.83 L161.13,274.68Z" fill="#2d5d8c" />
<path d="M164.60,290.20 L162.79,293.16 L162.17,292.02 L158.51,294.00 L158.09,293.20 L161.75,291.23 L161.13,290.08Z" fill="#2d5d8c" />
<path d="M164.60,307.30 L162.79,310.26 L162.17,309.12 L158.51,311.10 L158.09,310.30 L161.75,308.33 L161.13,307.18Z" fill="#2d5d8c" />
<path d="M164.60,323.50 L162.79,326.46 L162.17,325.32 L158.51,327.30 L158.09,326.50 L161.75,324.53 L161.13,323.38Z" fill="#2d5d8c" />
<path d="M205.50,257.00 L208.97,256.92 L208.34,258.06 L212.22,260.21 L211.78,260.99 L207.91,258.85 L207.28,259.98Z" fill="#2d5d8c" />
<path d="M205.50,272.50 L208.97,272.42 L208.34,273.56 L212.22,275.71 L211.78,276.49 L207.91,274.35 L207.28,275.48Z" fill="#2d5d8c" />
<path d="M205.50,288.00 L208.97,287.92 L208.34,289.06 L212.22,291.21 L211.78,291.99 L207.91,289.85 L207.28,290.98Z" fill="#2d5d8c" />
<path d="M205.50,304.00 L208.97,303.92 L208.34,305.06 L212.22,307.21 L211.78,307.99 L207.91,305.85 L207.28,306.98Z" fill="#2d5d8c" />
<path d="M205.50,320.00 L208.97,319.92 L208.34,321.06 L212.22,323.21 L211.78,323.99 L207.91,321.85 L207.28,322.98Z" fill="#2d5d8c" />
<path d="M216.60,262.50 L214.80,265.47 L214.18,264.33 L210.22,266.50 L209.78,265.70 L213.75,263.54 L213.13,262.40Z" fill="#2d5d8c" />
<path d="M216.60,278.00 L214.80,280.97 L214.18,279.83 L210.22,282.00 L209.78,281.20 L213.75,279.04 L213.13,277.90Z" fill="#2d5d8c" />
<path d="M216.60,293.60 L214.80,296.57 L214.18,295.43 L210.22,297.60 L209.78,296.80 L213.75,294.64 L213.13,293.50Z" fill="#2d5d8c" />
<path d="M216.60,309.80 L214.80,312.77 L214.18,311.63 L210.22,313.80 L209.78,313.00 L213.75,310.84 L213.13,309.70Z" fill="#2d5d8c" />
<path d="M216.60,325.80 L214.80,328.77 L214.18,327.63 L210.22,329.80 L209.78,329.00 L213.75,326.84 L213.13,325.70Z" fill="#2d5d8c" />
<path d="M258.20,262.80 L261.67,262.72 L261.04,263.86 L264.92,266.01 L264.48,266.79 L260.61,264.65 L259.98,265.78Z" fill="#2d5d8c" />
<path d="M258.20,278.20 L261.67,278.12 L261.04,279.26 L264.92,281.41 L264.48,282.19 L260.61,280.05 L259.98,281.18Z" fill="#2d5d8c" />
<path d="M258.20,292.70 L261.67,292.62 L261.04,293.76 L264.92,295.91 L264.48,296.69 L260.61,294.55 L259.98,295.68Z" fill="#2d5d8c" />
<path d="M258.20,309.80 L261.67,309.72 L261.04,310.86 L264.92,313.01 L264.48,313.79 L260.61,311.65 L259.98,312.78Z" fill="#2d5d8c" />
<path d="M258.20,326.90 L261.67,326.82 L261.04,327.96 L264.92,330.11 L264.48,330.89 L260.61,328.75 L259.98,329.88Z" fill="#2d5d8c" />
<path d="M274.70,257.70 L272.90,260.67 L272.28,259.53 L268.32,261.70 L267.88,260.90 L271.85,258.74 L271.23,257.60Z" fill="#2d5d8c" />
<path d="M274.70,273.10 L272.90,276.07 L272.28,274.93 L268.32,277.10 L267.88,276.30 L271.85,274.14 L271.23,273.00Z" fill="#2d5d8c" />
<path d="M274.70,288.50 L272.90,291.47 L272.28,290.33 L268.32,292.50 L267.88,291.70 L271.85,289.54 L271.23,288.40Z" fill="#2d5d8c" />
<path d="M274.70,304.70 L272.90,307.67 L272.28,306.53 L268.32,308.70 L267.88,307.90 L271.85,305.74 L271.23,304.60Z" fill="#2d5d8c" />
<path d="M274.70,321.80 L272.90,324.77 L272.28,323.63 L268.32,325.80 L267.88,325.00 L271.85,322.84 L271.23,321.70Z" fill="#2d5d8c" />
<path d="M316.40,256.80 L319.87,256.72 L319.24,257.86 L323.12,260.01 L322.68,260.79 L318.81,258.65 L318.18,259.78Z" fill="#2d5d8c" />
<path d="M316.40,272.20 L319.87,272.12 L319.24,273.26 L323.12,275.41 L322.68,276.19 L318.81,274.05 L318.18,275.18Z" fill="#2d5d8c" />
<path d="M316.40,286.90 L319.87,286.82 L319.24,287.96 L323.12,290.11 L322.68,290.89 L318.81,288.75 L318.18,289.88Z" fill="#2d5d8c" />
<path d="M316.40,303.90 L319.87,303.82 L319.24,304.96 L323.12,307.11 L322.68,307.89 L318.81,305.75 L318.18,306.88Z" fill="#2d5d8c" />
<path d="M316.40,320.20 L319.87,320.12 L319.24,321.26 L323.12,323.41 L322.68,324.19 L318.81,322.05 L318.18,323.18Z" fill="#2d5d8c" />
<path d="M327.10,262.80 L325.30,265.77 L324.68,264.63 L320.72,266.80 L320.28,266.00 L324.25,263.84 L323.63,262.70Z" fill="#2d5d8c" />
<path d="M327.10,278.20 L325.30,281.17 L324.68,280.03 L320.72,282.20 L320.28,281.40 L324.25,279.24 L323.63,278.10Z" fill="#2d5d8c" />
<path d="M327.10,293.60 L325.30,296.57 L324.68,295.43 L320.72,297.60 L320.28,296.80 L324.25,294.64 L323.63,293.50Z" fill="#2d5d8c" />
<path d="M327.10,309.90 L325.30,312.87 L324.68,311.73 L320.72,313.90 L320.28,313.10 L324.25,310.94 L323.63,309.80Z" fill="#2d5d8c" />
<path d="M327.10,326.20 L325.30,329.17 L324.68,328.03 L320.72,330.20 L320.28,329.40 L324.25,327.24 L323.63,326.10Z" fill="#2d5d8c" />
<path d="M368.60,262.00 L372.07,261.91 L371.45,263.05 L375.02,265.01 L374.58,265.79 L371.01,263.84 L370.39,264.98Z" fill="#2d5d8c" />
<path d="M368.60,277.40 L372.07,277.31 L371.45,278.45 L375.02,280.41 L374.58,281.19 L371.01,279.24 L370.39,280.38Z" fill="#2d5d8c" />
<path d="M368.60,292.00 L372.07,291.91 L371.45,293.05 L375.02,295.01 L374.58,295.79 L371.01,293.84 L370.39,294.98Z" fill="#2d5d8c" />
<path d="M368.60,309.00 L372.07,308.91 L371.45,310.05 L375.02,312.01 L374.58,312.79 L371.01,310.84 L370.39,311.98Z" fill="#2d5d8c" />
<path d="M368.60,325.30 L372.07,325.21 L371.45,326.35 L375.02,328.31 L374.58,329.09 L371.01,327.14 L370.39,328.28Z" fill="#2d5d8c" />
<path d="M193.10,369.80 L184.06,356.73 L185.20,356.11 L180.60,348.81 L181.40,348.39 L186.00,355.69 L187.14,355.07Z" fill="#2b5d92"/>
<path d="M213.90,370.40 L212.15,354.10 L213.45,354.10 L213.45,346.20 L214.35,346.20 L214.35,354.10 L215.65,354.10Z" fill="#2b5d92"/>
<path d="M231.20,369.30 L237.58,354.44 L238.71,355.08 L242.91,348.38 L243.69,348.82 L239.49,355.52 L240.62,356.16Z" fill="#2b5d92"/>
<path d="M297.50,371.00 L287.14,358.46 L288.22,357.75 L284.62,351.55 L285.38,351.05 L288.98,357.25 L290.06,356.54Z" fill="#2b5d92"/>
<path d="M317.60,372.00 L315.85,355.50 L317.15,355.50 L317.15,348.50 L318.05,348.50 L318.05,355.50 L319.35,355.50Z" fill="#2b5d92"/>
<path d="M335.50,371.00 L342.83,356.54 L343.92,357.25 L347.12,350.75 L347.88,351.25 L344.68,357.75 L345.77,358.46Z" fill="#2b5d92"/>
<rect x="103.2" y="141.4" width="2.5" height="20" fill="#000"/>
<path d="M98.6,160.2 L110.1,160.2 L109.6,163 L104.3,203.6 L99.1,163 Z" fill="#000"/>
<path d="M89.2,169.6 L101,179.2 Q104,181 107,178.8 Q112,172.5 115.5,171.7 L119.8,171.7 L119.8,284 A30,30 0 0 0 150,314 L150,343 A61,59 0 0 1 89.2,284 Z" fill="url(#gDuctL)" stroke="#5e5e5e" stroke-width="1"/>
<linearGradient id="gArr" gradientUnits="userSpaceOnUse" x1="0" y1="179" x2="0" y2="204"><stop offset="0" stop-color="#2a2a2a"/><stop offset="0.3" stop-color="#4a4a4a"/><stop offset="1" stop-color="#7a7a7a"/></linearGradient>
<path d="M100.5,179.5 L108.1,179.5 L104.3,203.6 Z" fill="url(#gArr)"/>
<line x1="89.5" y1="294" x2="120" y2="286.5" stroke="#6a6a6a" stroke-width="0.8"/>
<line x1="98" y1="314" x2="124" y2="301" stroke="#6a6a6a" stroke-width="0.8"/>
<line x1="113" y1="332" x2="135" y2="309.5" stroke="#6a6a6a" stroke-width="0.8"/>
<line x1="133" y1="340.5" x2="142" y2="312.5" stroke="#6a6a6a" stroke-width="0.8"/>
<path d="M104.20,296.00 L101.40,272.00 L103.55,272.00 L103.55,261.50 L104.85,261.50 L104.85,272.00 L107.00,272.00Z" fill="#555" />
<path d="M150.6,311 L154.6,308.2 L154.6,346.8 L150.6,345 Z" fill="#dcdcdc"/>
<line x1="151" y1="311" x2="151" y2="345" stroke="#666" stroke-width="0.9"/>
<rect x="153.2" y="308.2" width="1.6" height="38.6" fill="#8a8a8a"/>
<rect x="129" y="329.05" width="11" height="1.3" fill="#555"/>
<path d="M139.5,326.8 L151.5,328.6 L151.5,330.8 L139.5,332.6 Z" fill="#555"/>
<rect x="151" y="328.6" width="4.6" height="2.2" fill="#000"/>
<line x1="155.5" y1="329.7" x2="164" y2="329.7" stroke="#2f5f8f" stroke-width="1"/>
<path d="M379.3,210 A62,57 0 0 1 441.2,267 L441.2,370 A30,30 0 0 0 471.5,400.2 L471.5,431 A61.2,61 0 0 1 410.3,370 L410.3,267 A31,26 0 0 0 379.3,241.2 Z" fill="url(#gDuctR)" stroke="#666" stroke-width="0.9"/>
<clipPath id="ductR"><path d="M379.3,210 A62,57 0 0 1 441.2,267 L441.2,370 A30,30 0 0 0 471.5,400.2 L471.5,431 A61.2,61 0 0 1 410.3,370 L410.3,267 A31,26 0 0 0 379.3,241.2 Z"/></clipPath>
<g clip-path="url(#ductR)" fill="#fff"><path d="M400,205 L412,205 L450,290 L442,300 Z" opacity="0.22"/><path d="M420,205 L428,205 L455,265 L450,272 Z" opacity="0.2"/><path d="M405,262 L413,262 L445,335 L441,345 Z" opacity="0.16"/><path d="M432,250 L445,250 L445,300 Z" opacity="0.16"/></g>
<line x1="398.2" y1="213" x2="390.5" y2="241.2" stroke="#707070" stroke-width="0.8"/>
<line x1="418.8" y1="222.4" x2="398.2" y2="243.8" stroke="#707070" stroke-width="0.8"/>
<line x1="433.3" y1="240.3" x2="406.8" y2="253.2" stroke="#707070" stroke-width="0.8"/>
<line x1="440.2" y1="259.2" x2="411" y2="266.9" stroke="#707070" stroke-width="0.8"/>
<line x1="411.1" y1="382.5" x2="441" y2="375.3" stroke="#707070" stroke-width="0.8"/>
<line x1="418" y1="401.3" x2="445.3" y2="389" stroke="#707070" stroke-width="0.8"/>
<line x1="434.2" y1="418.4" x2="454.4" y2="397.6" stroke="#707070" stroke-width="0.8"/>
<line x1="454.4" y1="427.9" x2="461.6" y2="400" stroke="#707070" stroke-width="0.8"/>
<rect x="376.8" y="207" width="2.6" height="38.5" fill="#8a8a8a" stroke="#555" stroke-width="0.6"/>
<path d="M412.80,235.50 L395.14,230.43 L395.75,229.00 L387.85,225.70 L388.35,224.50 L396.25,227.80 L396.86,226.37Z" fill="#6596de"/>
<path d="M426.30,324.00 L424.40,306.80 L425.75,306.80 L425.75,297.40 L426.85,297.40 L426.85,306.80 L428.20,306.80Z" fill="#6596de"/>
<path d="M460.70,417.10 L442.71,412.55 L443.27,411.11 L435.67,407.61 L436.13,406.39 L443.73,409.89 L444.29,408.45Z" fill="#6596de"/>
<rect x="511" y="431.5" width="17.6" height="48.2" fill="url(#gSide)" stroke="#777" stroke-width="0.8"/>
<rect x="471.4" y="84.4" width="39.6" height="395.3" fill="url(#gStack)" stroke="#606060" stroke-width="1"/>
<line x1="471.4" y1="389.8" x2="511" y2="389.8" stroke="#6a6a6a" stroke-width="1"/>
<line x1="471.4" y1="400.5" x2="511" y2="400.5" stroke="#505050" stroke-width="1"/>
<line x1="471.4" y1="431.8" x2="511" y2="431.8" stroke="#505050" stroke-width="1"/>
<line x1="471.4" y1="400.5" x2="471.4" y2="479.7" stroke="#333" stroke-width="1.2"/>
<rect x="467.1" y="480.2" width="59.5" height="5.6" fill="url(#gStack)" stroke="#707070" stroke-width="0.8"/>
<rect x="511" y="410.2" width="16.6" height="16.3" fill="url(#gSide)" stroke="#707070" stroke-width="0.8"/>
<rect x="527.6" y="408.5" width="12.8" height="19.7" fill="url(#gSide)" stroke="#707070" stroke-width="0.8"/>
<path d="M492.6,60.6 L528.1,84.4 L456,84.4 Z" fill="url(#gStack)" stroke="#5a5a5a" stroke-width="0.9"/>
<path d="M490.20,118.80 L492.30,135.90 L490.75,135.90 L490.75,145.60 L489.65,145.60 L489.65,135.90 L488.10,135.90Z" fill="#6596de"/>
<path d="M488.50,278.80 L490.60,295.90 L489.05,295.90 L489.05,305.60 L487.95,305.60 L487.95,295.90 L486.40,295.90Z" fill="#6596de"/>
</svg>
<div class="t" style="left:61px;top:107.5px;color:#727272;letter-spacing:0.8px">含尘气体</div>
<div class="t" style="left:444px;top:37px;color:#4d90e6;letter-spacing:0.4px">干净气体</div>
</body></html>
